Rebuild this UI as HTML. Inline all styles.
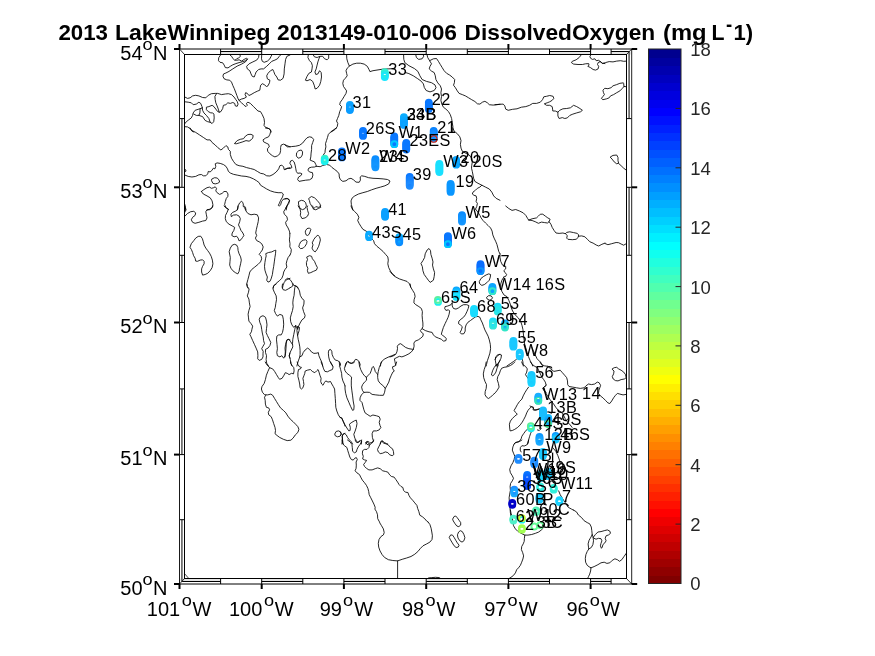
<!DOCTYPE html>
<html><head><meta charset="utf-8"><title>2013 LakeWinnipeg DissolvedOxygen</title>
<style>html,body{margin:0;padding:0;background:#fff;overflow:hidden}svg{display:block}text{font-family:"Liberation Sans",Arial,Helvetica,sans-serif}</style></head><body>
<svg width="875" height="656" viewBox="0 0 875 656">
<rect width="875" height="656" fill="#fff"/>
<g id="title" font-size="22.6" font-weight="bold" fill="#000">
<text x="58.4" y="39.6" textLength="49.6" lengthAdjust="spacingAndGlyphs">2013</text>
<text x="115.0" y="39.6" textLength="155.6" lengthAdjust="spacingAndGlyphs">LakeWinnipeg</text>
<text x="277.0" y="39.6" textLength="180.0" lengthAdjust="spacingAndGlyphs">2013149-010-006</text>
<text x="464.6" y="39.6" textLength="190.6" lengthAdjust="spacingAndGlyphs">DissolvedOxygen</text>
<text x="663.0" y="39.6" textLength="43.6" lengthAdjust="spacingAndGlyphs">(mg</text>
<text x="711.5" y="39.6" textLength="13.0" lengthAdjust="spacingAndGlyphs">L</text>
<text x="726.0" y="30.7" font-size="21" textLength="6.2" lengthAdjust="spacingAndGlyphs">-</text>
<text x="733.6" y="39.6" textLength="19.6" lengthAdjust="spacingAndGlyphs">1)</text>
</g>
<g id="coast" fill="none" stroke="#000" stroke-width="0.85" stroke-linejoin="round" stroke-linecap="round">
<path d="M220.5 55 L218.7 57.8 L218.5 60.7 L220 62.3 L222.7 62.8 L224.2 65.1 L225.3 67.6 L228 67.9 L230.3 66.3 L232.8 64.8 L235.9 63.6 L239.1 62.6 L242.9 61.6 L245.6 60.7 L247.5 59.1 L246.4 58.3 L244.1 59.4 L241.6 61.1 L239.1 59.8 L236.6 60.3 L234.7 60.1 L232.8 58.5 L231.8 56.5 L230.3 55.3"/>
<path d="M240.1 55.3 L240.3 56.5 L238.8 57.8 L236.6 58.8 L235.3 60.1"/>
<path d="M247.5 59.1 L245.4 61.9 L241.6 64.1 L237.2 66.1 L232.8 68.9 L229 71.4 L225.9 73 L223.6 73.9 L222.9 76.1 L224 78.7 L226.8 79.9 L229.7 80.2 L231.5 82.1 L232.8 85.4 L234.3 88.7 L235.6 92.1 L236.8 95.3 L238.1 98.8 L239.1 100.5 L241.6 102.8 L244.1 105.3 L246 106.6 L247.3 105.3 L246.4 103.4 L247.9 102.2 L250.4 103.4 L253.5 106.6 L256.1 109.1 L257.9 111 L260.5 111.6 L262.3 114.7 L264 118.5 L264.5 122.3 L264 125.4 L265.5 127.3 L268 128.2 L270.5 129.8 L271.1 132"/>
<path d="M258.9 55 L258.6 57.5 L256.7 60.1 L252.9 61.9 L249.1 63.8 L246.6 66.3 L247.3 68.9 L249.8 70.7 L251 73.9 L252.3 76.4 L254.2 77 L255.2 74.5 L256.1 72 L258.6 69.5 L261.1 68.9 L263.6 68.9 L266.7 66.3 L269.3 63.8 L271.8 61.3 L274.9 60.1 L277.4 58.8 L279.3 56.3 L280.6 55"/>
<path d="M261.7 55 L261.5 58.8 L262.3 61.3 L264.2 62.3 L267.4 61.1 L269.9 58.8 L271.1 56.3 L271.8 55"/>
<path d="M290 55 L286.9 56.3 L285.6 59.4 L285 63.8 L284.3 68.9 L284.1 73.9 L283.1 78.3 L280.6 80.2 L278.1 79.9 L276.8 77 L274.9 74.5 L273.7 71.4 L272.8 69.5 L270.5 70.7 L268 73.3 L266.7 75.8 L267.4 78.9 L269.9 80.2 L269.5 82.7 L268 85.8 L266.5 86.5 L264.2 84.6 L262.3 83.7 L260.7 85.2 L260.2 87.7 L259.8 90.2 L257.3 91.2 L254.2 92.7 L251 94.6 L248.9 95.5 L247.3 93.4 L245.6 92.7 L245.1 94.6 L246.4 97.1 L244.1 98.4 L241.6 99 L239.1 100.3"/>
<path d="M185 97.1 L187.5 98.4 L190.1 97.8 L192.6 95.9 L195.7 95.3 L198.9 95.9 L202.6 97.5 L205.8 97.8 L208.3 95.3 L211.4 93.7 L215.2 93.4 L217.7 93.4 L221.5 94.6 L225.3 94 L228.4 93.7 L231.5 94.6 L234.1 97.1 L235.9 99.7 L237.2 101.5 L238.1 104.1 L237.2 106.3 L235.3 105.9 L234.7 103.4 L232.8 102.5 L230.3 103.4 L227.8 102.8 L225.9 104.7 L223.4 105.3 L222.7 108.5 L220.9 111.6 L219.2 112.2 L218.3 109.1 L217.1 105.9 L215.8 102.8 L215.2 99.7 L214.9 96.5 L216.5 93.7"/>
<path d="M185 101.8 L188.2 102.2 L191.3 102.8 L193.2 104.7 L196.3 104.1 L198.9 102.2 L200.7 103.4 L202 106.6 L202.6 110.3 L203.9 112.9 L206.4 115.4 L208.9 118.5 L210.2 122.3 L212.1 123.5 L213.7 121.7 L214.2 117.9 L213.9 114.1 L212.7 112.9 L210.8 112.9 L208.3 111.6 L206.4 109.7 L206.4 107.2 L208.9 106.6 L212.1 105.3 L213.9 106.6 L215.8 109.1 L217.7 111.6 L219.2 112.2"/>
<path d="M202.6 107.8 L198.9 109.1 L195.1 110.3 L193.2 112.9 L192.6 115.4 L191.3 117.9 L188.8 119.8 L186.3 121.7 L185 123.5"/>
<path d="M200.1 109.1 L199.9 112.9 L198.9 115.4 L196.3 115.4 L193.8 114.1"/>
<path d="M198.9 115.4 L202.6 116.6 L205.1 120.4 L207.7 121.7 L210.2 122.3"/>
<path d="M185 126.7 L187.5 126.9 L190.1 128.6 L191.9 131.1 L193.8 132"/>
<path d="M308.3 55 L307.9 57.5 L309.5 60.7 L311.4 62.6 L312.4 65.7 L312 68.9 L311.4 72 L308.9 73.3 L307 76.4 L305.4 80.2 L307 80.8 L310.1 79.5 L312.7 81.4 L314.2 85.2 L315.2 89 L317.1 88.3 L319.6 85.2 L320.8 81.4 L321.5 77 L321.2 72.6 L319.6 70.7 L317.9 73.9 L315.8 74.5 L314.9 72 L316.2 68.9 L317.1 65.1 L317.9 61.9 L318.9 58.8 L320.2 56.3 L322.7 56.3 L324.6 58.8 L327.1 59.8 L328.7 58.2 L328.7 55"/>
<path d="M313.3 55 L314.5 56.9 L317.1 57.5 L319.6 56.5"/>
<path d="M346.6 55 L346.8 58.8 L347.9 62.6 L349.4 66.1 L347.2 68.2 L346 70.7 L346.6 73.3 L347.2 75.8 L345.3 78.3 L343.5 80.2 L342.8 83.3 L343.5 86.5 L345.3 89 L346.6 90.9 L346 93.4 L344.1 96.5 L342.2 99.7 L340.3 102.2 L339.7 104.7 L341.6 106.6 L340.9 109.1 L339.7 111.6 L338.8 115.4 L337.5 118.5 L336.5 121 L337.8 123.5 L337.2 126.7 L335.3 129.2 L332.8 131.1 L330.9 132"/>
<path d="M349.4 66.1 L352.9 64.1 L356.7 63.2 L360.4 63.2 L364.2 64.1 L367.3 66.3 L369 69.5 L369.9 71.6 L373 70.7 L378 69.9 L383.1 69.1 L388.1 68.9 L395 68.6"/>
<path d="M403.6 55 L403.8 59.4 L404.8 62.6 L408.9 65.7 L414.5 68.6 L417.9 71.4 L419.9 75.8 L422.1 79.5 L426.5 81.4 L431.5 82.7 L435 84.9 L436 87.7 L434.2 90.5 L430 91.9 L426.2 90.5 L424.3 87.5 L423.4 83.9 L421.2 81.2 L417.7 78.7 L413.3 75.8 L408.9 73.6 L405.1 72.4"/>
<path d="M415.8 55 L416.4 57.5 L418.7 59.4 L422.1 58.8 L423.7 56.3 L423.3 55"/>
<path d="M427.1 55 L427.7 57.5 L429.6 60.7 L431.5 63.8 L430 66.3 L429.2 68.9 L431.5 71.1 L434.2 72.6 L435.3 75.8 L435.9 79.5 L437.8 82.9 L440.3 85.8 L441.5 89 L440.9 92.7 L441.5 96.5 L440.9 100.3 L441.8 104.1 L443.4 107.2 L445.9 109.1 L448.5 111.6 L450.3 114.7 L451.6 118.5 L452.2 122.3 L452.9 126.7 L452.6 130.5 L452.9 132"/>
<path d="M429.6 60.7 L433.4 58.8 L436.5 58.5 L438.4 61.3 L440.3 64.5 L442.2 67.6 L444.1 70.7 L446.6 73.3 L449.7 75.1 L452.2 77 L454.7 79.5 L454.4 82.7 L453.5 85.2 L455.4 87.7 L457.3 90.9 L459.1 93.4 L462.3 94.6 L465.4 95.9 L468.6 97.8 L471.7 99.7 L474.9 101.5 L477.4 103.8 L479.9 104.1 L482.4 102.2 L484.9 101.3 L487.4 102.8 L489.3 104.7 L493.1 105.1 L496.9 104.7 L500 104.3"/>
<path d="M495 104.7 L499.4 104.3 L503.2 104.1 L504.8 105.9 L505.7 109.1 L508.2 110.3 L512.6 109.3 L517 108.8 L521.4 107.2 L525.8 106.6 L529.6 105.3 L532.7 103.4 L536.5 103.4 L540.3 102.2 L542.5 99.7 L543.8 96.8 L546.5 96.3 L549.7 95.5 L553.1 96.3 L553.8 98.4 L552.2 100.3 L549.7 101.8 L547.2 102.8 L544.3 103.8 L546.5 105.3 L549.7 105.3 L552.2 106.6 L552.6 109.1 L552.8 111 L555.3 111 L557.9 112.2 L559.7 110.3 L562.9 108.8 L566.7 108.5 L570.4 107.8 L573.6 105.3 L576.7 106.6 L579.9 108.5 L582.4 110.3 L580.5 111.8 L576.7 112.9 L572.9 114.1 L569.8 115.4 L567.3 117.9 L564.8 118.5 L562.3 117.6 L559.1 118.5 L557.9 116 L557.9 112.2"/>
<path d="M581.1 55 L579.2 57.5 L576.1 59.8 L572.3 61.3 L571.4 62.6 L573.6 64.1 L578 64.5 L582.4 64.5 L585.5 63.8 L588.7 63.6 L589 65.1 L587.8 66.3 L590.5 67.6 L593.1 69.5 L595.6 70.1 L598.1 68.9 L598.7 66.3 L597.5 64.5 L598.1 62.6 L600.3 61.6 L598.7 60.3 L596.2 60.7 L594.9 58.8 L592.4 59.4 L590.5 58.2 L589.9 56.3 L590.8 55"/>
<path d="M600.3 61.6 L602.5 63.2 L605 63.6"/>
<path d="M600.4 61.6 L602.3 63.6 L605.4 62.6 L609.2 61.6 L613 61.9 L616.7 61.1 L620.5 60.7 L623.7 61.3 L626.5 61.1"/>
<path d="M623 82.9 L619.9 83.3 L616.7 84.6 L613 85.8 L611.1 87.7 L607.9 88.7 L604.8 88.3 L602.9 90.2 L603.5 92.7 L604.4 94.6 L602.9 96.5 L601.4 98.4 L602.9 99.7 L606.7 98.8 L609.2 97.8 L610.5 95.9 L613.6 94.6 L616.7 92.7 L619.9 90.9 L622.4 88.3 L624 86.5 L623.7 83.9 Z"/>
<path d="M624 86.5 L626.2 86.7"/>
<path d="M190.1 128 L191.9 130.5 L195.7 132.4 L199.5 134.9 L203.3 137.4 L207 139.9 L210.2 139.9 L212.1 142.5 L215.2 145 L217.7 147.5 L220.9 150 L223.4 148.1 L225.9 145.6 L227.8 146.9 L228.4 149.4 L230.3 151.3 L230.3 154.4 L231.5 158.2 L233.4 161.3 L235.9 164.5 L239.1 165.7 L242.9 166.3 L246.6 167.6 L250.4 168.5 L254.2 169.5 L257.3 171.4 L260.5 173.3 L263.6 173.9 L266.7 175.8 L269.9 176 L273 174.5 L276.2 172 L278.7 168.9 L279.9 165.7 L281.8 165.1 L283.7 167 L284.1 169.5 L286.2 168.9 L290 167.6"/>
<path d="M234.7 143.3 L237.2 140.6 L240.3 139.3 L243.5 138.7 L245.4 136.2 L247.9 134.5 L251 134.3 L253.2 135.5 L252.7 138.1 L251 139.9 L249.1 141.2 L246 140.6 L242.9 141.8 L239.7 142.8 L236.6 143.7 Z"/>
<path d="M265.5 128 L269.3 128.6 L270.8 131.1 L269.9 134.3 L268.6 136.8 L265.5 138.1 L263 139.9 L263.6 141.8 L266.1 143.1 L268.6 144.3 L269.3 146.9 L267.4 148.7 L267.7 151.3 L269.9 153.8 L272.4 155.7 L274.9 156.9 L277.4 155.9 L279.9 153.8 L280.6 150.6 L280.6 147.5 L281.2 145 L283.7 144.1 L286.9 145.6 L290 146.9"/>
<path d="M185 169.5 L186 170.1 L185.7 171.4 L185 172"/>
<path d="M185 175.1 L188.2 176.4 L191.9 177 L195.7 176.4 L198.9 174.8 L201.4 174.5 L203.3 175.8 L205.8 175.8 L207.7 173.9 L208.3 171.4 L210.2 172 L212.1 170.1 L213.3 168.2 L214.9 168.9 L215.8 166.3 L215.2 163.8 L217.1 162.9 L220.2 163.4 L223.4 164.5 L225.9 166.3 L227.5 168.9 L228.4 171.4 L230.3 173 L233.4 174.3 L237.2 175.1 L241.6 176 L246 176.4 L249.8 177.3 L253.5 178.9 L256.7 180.8 L259.2 182.7 L260.5 185.2 L263.6 187.1 L266.7 189 L270.5 190.9 L274.3 192.1 L278.1 192.7 L281.8 192.7 L283.3 194 L282.5 197.1 L280.6 200.3 L279.3 203.4 L278.3 205.3 L279.3 206.2 L280.6 204.7 L281.6 201.5 L283.1 199.4 L286.2 198.4 L288.7 199 L289.6 200.9 L288.1 203.4 L286.9 206.6 L286.2 210"/>
<path d="M212.1 178.9 L214.6 177.7 L217.1 178 L219 179.8 L219.6 182.1 L217.7 183.3 L215.2 183.9 L212.9 183.3 L211.7 181 Z"/>
<path d="M201.4 191.5 L203.9 189.6 L207 187.7 L209.5 187.1 L211.4 188.3 L213.7 187.7 L215.2 186.8 L216.5 188.3 L215.8 190.9 L217.1 192.7 L219.6 194.4 L222.1 193.4 L224 191.5 L226.5 191.5 L228 194 L227.8 196.5 L226.3 198.4 L225.3 201.5 L224.6 204.7 L225.9 207.2 L228.4 209.7"/>
<path d="M201.4 191.5 L203.3 194 L207 195.9 L210.2 197.8 L212.1 200.9 L212.9 204.7 L212.1 207.8 L209.5 209.7 L207 210"/>
<path d="M237.2 210 L238.1 205.9 L239.7 202.8 L241.6 201.2 L242.9 202.8 L243.5 205.3 L245.4 207.2 L246 210"/>
<path d="M185 204.7 L185.3 207.8 L186 210"/>
<path d="M336.5 128 L333.4 129.9 L330.9 131.8 L328.4 134.3 L327.5 137.4 L326.5 140.6 L325.5 143.7 L325.9 146.9 L325.2 150 L325 152.5 L323.3 155"/>
<path d="M285 145 L287.5 146.9 L291.3 146.6 L295.7 146.2 L299.5 145.3 L302.6 143.1 L305.1 139.9 L307 137.8 L309.5 136.8 L312 137.4 L313.7 139.6 L312.7 142.5 L311.6 145.6 L311.6 149.4 L311.1 153.1 L310.8 156.9 L310.1 160.1 L312 160.9 L314.5 161.9 L315.8 164.5 L316.4 166.3 L314.5 167 L311.4 167.2 L308.9 168 L307.9 170.1 L309.5 172 L312.4 172.6 L312.9 175.1 L312 178.3 L309.5 179.8 L305.7 180.2 L302 180.8 L299.1 181.4 L297.6 179.5 L298.6 177 L300.7 175.8 L302 173.9 L300.1 173 L297.6 173.3 L296.3 171.4 L295.7 168.2 L295.1 165.1 L294.1 161.9 L292.5 160.4 L290.7 160.9 L289.8 163.2 L291.3 165.5 L291.9 167.6 L290 168.5 L287.5 168.2 L285 169.5"/>
<path d="M296.9 152.5 L298.8 150.6 L301.3 150 L302.6 151.9 L302.3 155 L300.7 157.5 L298.2 158.2 L296.6 156.3 Z"/>
<path d="M316.4 166.3 L320.2 166.7 L322.7 165.5 L326.5 164.5 L329.6 165.1 L332.1 167.6 L334.7 169.5 L337.2 171.4 L339.1 173.9 L339.3 177 L340.3 179.5 L342.8 181.4 L346 180.8 L348.5 178.9 L351 178.3 L353.5 179.8 L356 182.1 L359.2 182.3 L360.4 180.2 L360.2 177 L361.7 175.8 L364.8 176.4 L368.6 177.7 L373 178.3 L378 178.5 L383.1 178.9 L387.5 179.5 L390 181 L388.7 183.9 L384.9 185.8 L380.5 187.1 L376.1 188.3 L371.7 189.8 L367.3 191.5 L362.9 192.7 L358.5 194 L354.8 195.9 L352.3 197.8 L351 200.9 L351.4 204.7 L352.3 207.8 L352.9 210"/>
<path d="M285 199 L287.5 198.6 L289.4 200.3 L288.8 203.4 L286.9 205.9 L285.6 208.5"/>
<path d="M298.8 201.5 L301.3 200.3 L303.9 200.9 L305.7 202.8 L306.4 205.9 L305.1 208.5 L302.6 209.7 L300.1 208.5 L298.8 205.3 Z"/>
<path d="M308.9 198.4 L311.4 196.5 L314.5 197.8 L317.1 200.3 L319.6 203.4 L320.8 205.9 L318.9 207.4 L315.8 206.6 L313.9 208.5 L312 206.6 L310.1 203.4 L309.5 200.9 Z"/>
<path d="M452.9 128 L454.1 131.1 L457.3 133.7 L459.8 136.8 L461 140.6 L460.4 144.3 L461 148.1 L462.3 151.3 L465.4 153.1 L469.2 155 L471.7 158.2 L472.3 161.9 L471.7 165.7 L471.5 168.2 L472.3 171.4 L473 175.1 L473.6 178.3 L474.9 181.4 L478 183.3 L481.8 185.2 L485.5 187.1 L489.3 189 L491.8 192.1 L493.7 195.9 L496.2 198.4 L500 200.3"/>
<path d="M481.8 185.2 L479.9 187.1 L477.4 188.3 L475.5 190.2 L473 192.1 L472.3 194 L474 195.3 L476.1 195.9 L476.7 198.4 L476.1 201.5 L477.4 203.4 L476.7 206.6 L475.5 209.1"/>
<path d="M610.5 156.9 L613 155.4 L616.7 155 L618 157.5 L618 160.7 L618.6 163.2 L616.7 163.8 L614.2 161.9 L612.3 159.4 Z"/>
<path d="M618.6 163.4 L621.1 165.7 L623.7 168.2 L626.2 170.1"/>
<path d="M185 216.1 L187.5 213.5 L190.7 211.7 L193.8 211.3 L195.7 212.9 L195.1 215.4 L192.6 217.3 L191.3 219.8 L192.6 222.3 L195.1 223.3 L198.9 222.3 L202.6 221.1 L205.8 220.5 L207 217.9 L206.4 214.8 L205.8 211.7 L207 209.8 L210.2 209.1 L212.4 207.3 L212.9 206"/>
<path d="M224 206 L225.9 207.9 L228.4 209.1 L227.1 212.3 L225.5 215.4 L225.3 218.6 L226.3 221.7 L229 224.2 L232.2 225.9 L234.7 227.4 L233.8 230.5 L232.2 233 L231.8 235.5 L234.1 236.8 L236.6 236.2 L238.1 238.1 L239.1 240.9 L241 239.7 L242.6 237.4 L243.9 235.5 L242.9 233 L241 230.5 L239.7 227.4 L238.5 224.9 L239.7 221.7 L240.3 218.6 L239.1 216.1 L236.6 214.8 L233.4 215.1 L231.3 216.7 L230.9 214.2 L232.8 212.3 L235.9 211 L237.8 209.1 L238.1 206"/>
<path d="M242.9 206 L244.7 207.9 L246 211 L247.9 213.5 L251 214.8 L254.2 214.2 L257.3 214.8 L258.6 217.9 L258.2 221.7 L257.3 225.5 L256.4 229.3 L255.7 233 L256.7 235.5 L255.4 238.1 L256.7 240.6 L259.2 241.8 L261.7 243.7 L263.2 246.9 L262.3 250 L260.5 252.5 L259.2 254.4 L261.1 256.3 L261.7 258.8 L260.5 261.9 L257.9 264.5 L254.8 267 L251.7 269.5 L249.8 272 L248.9 275.8 L247.9 279.5 L246.9 283.3 L247.3 286.5 L247.9 288"/>
<path d="M190.1 246.9 L191.3 243.7 L193.8 240.6 L195.7 238.1 L198.2 236.4 L200.7 236.2 L202.4 238.7 L203.3 241.8 L204.1 245 L205.8 248.1 L207.7 250.6 L209.5 253.1 L211.2 256.3 L212.4 260.1 L212.9 263.8 L212.1 267.6 L210.2 270.7 L207.7 273.3 L205.1 274.5 L202.6 275.1 L201.6 272 L201.6 268.9 L202.6 266.3 L204.1 263.8 L204.1 261.3 L202.6 259.8 L200.1 260.1 L197.6 261.3 L195.7 261.1 L195.1 258.2 L193.6 255.7 L192.6 252.5 L191.6 250 Z"/>
<path d="M229.3 251.3 L230.3 248.1 L232.2 245.2 L234.3 244.3 L236.6 245 L237.8 247.5 L238.1 250.6 L239.1 253.8 L240.6 256.9 L241.3 260.1 L240.6 263.8 L239.7 267.6 L239.1 271.4 L237.8 273.9 L235.3 272.6 L232.8 270.7 L230.9 268.2 L229.7 265.1 L230 261.3 L230.3 257.5 L229.7 254.4 Z"/>
<path d="M266.1 253.5 L268.6 252.5 L271.8 251.9 L274.3 250.6 L275.8 250.2 L275.5 253.8 L274.9 257.5 L274.3 261.9 L273.7 266.3 L273 270.1 L272.4 274.5 L271.1 278.9 L269.9 281.4 L268 282.1 L266.7 280.2 L267.4 277 L266.1 273.9 L264.9 270.1 L264.5 266.3 L264.9 262.6 L265.5 258.8 L266.1 256.3 Z"/>
<path d="M286.9 206 L285.6 208.5 L283.7 211.7 L284.3 214.2 L286.9 216.7 L287.5 219.8 L285.6 222.3 L286.2 224.9 L288.1 228 L289.4 231.1 L290 233.7"/>
<path d="M290 255 L288.1 257.5 L286.9 260.7 L286.2 263.8 L286.9 267 L285 269.5 L283.7 272 L283.1 275.1 L281.8 278.3 L279.3 280.8 L276.2 283.3 L273.7 285.8 L273 288"/>
<path d="M290 278.3 L286.9 279.5 L284.3 282.1 L283.1 285.2 L282.5 288"/>
<path d="M185 206 L185.8 209.1 L185 212"/>
<path d="M289.8 233.7 L289.8 236.2 L289.4 239.9 L290 243.7 L289.8 246.9 L291.3 249.4 L291 252.5 L290 255"/>
<path d="M298.2 206 L300.1 209.1 L300.7 212.3 L300.3 215.4 L302 218.6 L305.1 217.9 L307.6 216.1 L308.6 213.5 L307.6 210.4 L307 207.3 L307.6 206"/>
<path d="M312.7 206 L313.3 209.1 L315.8 209.8 L318.3 208.5 L320.8 207.3 L320.2 206"/>
<path d="M305.7 230.5 L307 228.6 L309.5 228 L310.8 229.3 L310.1 231.8 L309.1 234.3 L307.6 235.5 L306.1 234.9 L305.4 232.6 Z"/>
<path d="M299.5 244.3 L300.7 241.8 L303.2 240.2 L305.7 239.7 L307 241.2 L306.6 243.7 L305.1 246.2 L303.2 248.1 L300.7 248.7 L299.1 247.2 Z"/>
<path d="M312.4 242.5 L313.9 239.3 L315.8 236.8 L317.9 235.2 L319.6 236.8 L320.4 239.9 L319.6 243.1 L318.7 246.2 L317.1 249.4 L315.2 251.9 L313.3 250.6 L312 248.1 L312.9 245.2 Z"/>
<path d="M307 256.9 L309.5 255.7 L311.6 256.3 L312.4 258.8 L314.5 261.3 L315.8 264.5 L317.4 267.6 L316.4 270.1 L313.3 271.4 L310.8 272.6 L308.3 273.3 L307.4 270.7 L307.9 268.2 L306.6 265.7 L306.4 262.6 L307.4 259.8 Z"/>
<path d="M285 280.2 L287.5 278.3 L290 279.5 L291.9 282.1 L292.8 284.6 L295.1 285.8 L296.9 286.5 L297.6 288"/>
<path d="M351 206 L352.3 209.1 L354.8 211.7 L357.3 214.2 L358.9 217.3 L357.7 220.5 L359.2 223.6 L361.1 226.7 L362.9 229.3 L366.1 231.1 L368.6 233 L371.7 238.7 L373.6 240.6 L374.5 243.7 L376.8 246.2 L379.9 248.7 L383.1 251.5 L385.6 254.4 L387.8 256.9 L388.3 260.1 L387.8 263.8 L388.7 267.6 L390.6 271.4 L393.1 274.5 L395 276.1"/>
<path d="M421.2 263.2 L422.9 260.7 L424.6 257.5 L425.2 253.8 L427.1 250 L429 248.5 L430.5 250.6 L430.9 254.4 L432.1 258.2 L433 261.9 L432.5 265.1 L433.4 268.9 L434.6 272.6 L434.2 276.4 L433.4 280.2 L430.2 282.4 L428.3 280.2 L426.5 277.7 L424.2 274.5 L422.9 270.7 L422.4 267 Z"/>
<path d="M475.5 209.1 L478 212.3 L479.9 215.4 L481.1 217.9 L483 220.5 L485.5 223 L488.1 225.5 L490.6 228 L492.1 231.1 L492.8 234.9 L494.1 238.1 L495.6 241.2 L496.9 244.3 L497.9 248.1 L498.7 251.3 L500 253.8"/>
<path d="M479.5 281.2 L481.1 278.3 L483.7 276.4 L486.2 274.9 L488.7 273.9 L490.6 274.5 L490.3 277 L489.3 280.2 L486.8 282.7 L484.3 284.6 L481.8 285.4 L479.9 283.9 Z"/>
<path d="M390 271.4 L392.5 274.5 L395.7 277 L399.4 278.9 L403.2 280.2 L407 281.4 L409.5 283.9 L410.7 287.1"/>
<path d="M505.7 206 L508.8 208.5 L512 210.4 L515.7 209.5 L519.5 211 L523.3 212.9 L525.8 215.4 L527.7 218.6 L528.7 220.1 L532.1 218.8 L536.5 217.9 L538.4 216.1 L540.3 214.2 L542.8 214.2 L545.3 216.1 L547.8 217.9 L550.1 219.2 L549.1 221.7 L547.5 223 L544.7 222.6 L541.5 222.1 L538.4 223.3 L535.2 221.7 L532.1 220.5 L528.7 220.1"/>
<path d="M549.1 221.7 L550.9 224.2 L552.2 227.4 L554.1 230.5 L556 233 L559.1 233.4 L562.9 233 L565.4 233.7 L567.3 235.5 L566.7 238.1 L567.9 239.3 L572.3 239.7 L576.1 239.3 L578.2 237.4 L578.6 234.9 L577.3 233.4 L573.6 232.6 L569.8 231.8 L566.7 232.4 L565.4 233.7"/>
<path d="M578.6 236.2 L581.7 235.9 L584.9 236.8 L587.4 239.3 L589.9 241.8 L593.1 243.1 L596.2 245 L598.7 246 L601.9 244.3 L605 243.1"/>
<path d="M500 253.8 L500 257.5 L500.7 261.3 L502.5 265.1 L505.7 266.3 L505.7 268.9 L503.8 270.7 L505.1 272.6 L506.6 274.5 L505.7 276.4 L503.8 277"/>
<path d="M605 243.5 L607.9 244.7 L611.7 243.7 L616.1 242.5 L618.6 242.7 L621.1 244 L623.7 245.2 L626.2 243.7"/>
<path d="M246.6 284 L247.3 286.5 L249.1 289 L248.5 292.2 L247.3 295.9 L248.9 299.1 L249.4 302.9 L250.1 306.6 L248.9 310.4 L248.1 314.2 L248.5 317.9 L248.9 321.1 L251 323.6 L252.7 326.1 L251.9 329.3 L251.4 331.8 L249.8 334.3 L251 336.8 L252.7 340.6 L254.4 344.3 L256.1 348.1 L257.7 351.9 L257.9 355.7 L257.7 358.8 L259.2 360.4 L261.7 359.4 L263 356.9 L263 353.8 L263.2 351.3 L261.7 348.7 L263 346.2 L264.5 343.7 L263.6 340.6 L263.2 336.8 L262.3 333 L261.7 329.3 L261.1 325.5 L259.8 322.3 L259.2 319.2 L260.5 316.7 L263 315.7 L265.5 317.3 L266.5 321.1 L267 324.9 L266.5 328.6 L266.1 332.4 L267.4 335.5 L269 338.7 L270.8 342.5 L269.9 345.6 L268 348.1 L265.5 349.4 L265.5 352.5 L266.5 355.7 L266.1 359.4 L266.7 363.2 L268.6 366"/>
<path d="M276.2 284 L273.7 285.9 L273 289 L274.3 292.2 L276.2 295.9 L276.5 299.7 L275.8 303.5 L275.3 307.3 L274.3 310.4 L275.5 313.5 L277.4 316.1 L279.9 314.4 L282.5 315.4 L283.3 319.2 L283.7 324.2 L283.3 328.6 L282.5 332.4 L281.2 334.9 L278.7 334.9 L276.8 336.2 L276.5 339.9 L277 344.3 L277.4 348.7 L276.8 352.5 L277.4 355.7 L279.9 356.9 L281.8 355.7 L283.7 358.2 L285 355.7 L285.3 351.9 L285 348.1 L285.6 344.3 L286.6 340.6 L288.1 339.3 L290 339.9"/>
<path d="M282.5 284 L282.1 287.1 L283.1 289.7 L285.6 290.3 L288.1 289 L290 287.8"/>
<path d="M290 353.1 L289.1 355.7 L290 358.2"/>
<path d="M290 287.8 L292.5 286.3 L293.2 284"/>
<path d="M295.7 285.9 L297.6 287.1 L299.5 290.9 L300.3 295.3 L302 298.5 L304.1 300.3 L303.9 304.1 L302.6 307.9 L303.6 311.7 L305.1 315.4 L304.5 317.9 L302 319.8 L300.1 323 L298.6 326.1 L297.6 329.3 L295.7 325.5 L293.8 327.4 L291.9 324.9 L290.7 321.7 L290.3 317.9 L291.3 314.2 L292.5 310.4 L293.2 306.6 L292.8 302.9 L293.2 299.1 L294.1 295.3 L294.4 290.9 L294.8 287.8 Z"/>
<path d="M295.7 325.5 L294.8 329.3 L293.8 334.3 L292.8 339.3 L292.5 343.7 L292.8 346.9 L291.3 350 L289.8 353.1 L289.4 356.3 L290.3 359.4 L290.7 363.2 L291.9 365.7"/>
<path d="M297.6 326.7 L299.5 327.4 L299.1 330.5 L298.2 333.7 L297.6 335.5 L298.2 339.3 L299.1 343.1 L299.8 346.9 L300.1 350.6 L300.1 354.4 L299.8 356.9 L298.6 360.1 L297.6 363.2 L296.9 366"/>
<path d="M297.6 326.7 L296.9 330.5 L297.6 335.5"/>
<path d="M285 356.9 L285.6 353.1 L286 348.1 L286.3 343.1 L286.9 339.9 L288.8 339.3 L290.7 341.8 L292.3 344.3"/>
<path d="M299.8 356.9 L302 355.7 L303.2 352.5 L305.1 350 L307.6 348.1 L309.5 349.4 L311.4 351.9 L313.9 353.4 L317.1 353.1 L318.3 352.5 L318.9 355.7 L320.2 358.8 L321.7 361.9 L322.7 366"/>
<path d="M339.7 366 L340.6 365.1 L340.1 362.6 L337.8 360.7 L335.3 360.1 L333.4 357.5 L332.1 354.4 L331.8 351.3 L330.5 349.4 L329 350 L328.4 351.9 L328.4 353.8 L328.7 356.9 L329.6 360.7 L331.3 363.8 L332.8 366"/>
<path d="M345.1 366 L346 363.2 L347.9 361.3 L349.7 362.6 L351.6 363.4 L353.9 361.9 L355.4 359.4 L357.3 359.7 L359.2 361.9 L360.2 364.5 L359.8 366"/>
<path d="M395 354.4 L391.9 355.7 L388.1 357.2 L384.9 358.8 L382.4 360.7 L380.8 363.2 L380.5 366"/>
<path d="M410.1 284 L410.7 287.1 L412.6 290.3 L414.5 293.4 L415.1 296.6 L414.1 299.7 L413.9 302.9 L415.8 304.7 L418.9 306.6 L421.4 308.5 L422.4 311.7 L422.1 315.4 L422.4 319.2 L422.9 323 L422.9 326.7 L422.1 328.6 L420.4 330.5 L421.4 332.4 L423.3 333.7 L422.9 336.2 L420.8 338.1 L418.3 339.9 L415.1 341.2 L413.9 343.1 L414.1 346.2 L413.3 349.4 L411.4 351.9 L408.9 353.8 L405.1 355.7 L401.9 356.9 L399.4 356.3 L396.9 357.5 L394.4 358.8 L395 361.9 L395.7 365.1"/>
<path d="M390 356.9 L392.5 356.3 L395.7 354.4 L396.9 351.9 L397.5 348.7 L397.3 346.2 L398.8 344.3 L400.7 343.7 L403.2 345.6 L405.7 347.5 L408.9 348.7 L413.3 349.4"/>
<path d="M422.1 328.6 L425.2 330.5 L429 331.8 L432.1 332.4 L433.4 334.9 L435.3 336.8 L438.4 338.1 L441.5 339.3 L443.4 341.2 L445.9 340.6 L446.3 338.7 L444.7 336.8 L442.8 335.5 L441.3 334.3 L442.2 331.1 L443.4 327.4 L445.1 323.6 L446.6 320.5 L448.1 317.3 L449.1 314.2 L449.7 311 L448.5 309.8 L445.9 310.4 L444.7 308.5 L445.1 306.6 L447.8 306 L451 304.7 L452.2 302.9"/>
<path d="M452.2 302.9 L452.2 306 L453.5 308.5 L456 309.1 L458.5 307.9 L461 306 L463.5 304.7 L466.7 304.7 L468.9 305.6 L468.2 308.5 L466.9 311.7 L465.4 314.8 L463.5 317.3 L461 319.2 L458.9 321.1 L458.5 323.6 L460.4 324.9 L462.3 326.7 L461.4 329.9 L460.1 332.4 L461.4 334 L463.9 333.7 L465.2 331.1 L465.2 328 L466.1 324.9 L467.9 322.3 L470.5 320.5 L473 318.6 L475.5 316.9 L478 316.4 L479.9 317.3 L480.8 319.8 L482.4 323 L483.7 326.7 L484.9 329.9 L486.5 333 L488.1 336.2 L489.3 339.9 L490.3 344.3 L490.6 348.7 L489.9 353.1 L488.7 356.9 L487.4 360.7 L486.5 364.5 L486.2 366"/>
<path d="M500 354.4 L497.5 355 L495.6 356.9 L495.3 360.1 L495.8 363.2 L496.2 366"/>
<path d="M500 360.7 L498.4 363.2 L497.9 366"/>
<path d="M486.8 297.2 L488.7 295.6 L491.2 295.9 L492.5 297.8 L491.2 299.7 L489.3 300.1 L487.4 299.1 Z"/>
<path d="M503.8 277.1 L501.9 280.2 L500.7 284 L500.7 287.8 L501.9 291.5 L504.1 295.1 L506.9 296.6 L508.8 300.3 L510.3 304.1 L511.3 307.9 L512.6 311 L515.1 314.8 L518.3 317.9 L520.8 321.7 L522 325.5 L522.9 329.3 L523.3 333 L523.7 336.8 L524.2 340.6 L524.7 344.3 L525.8 348.1 L527.1 352.5 L528.3 356.3 L530.2 360.7 L532.1 364.5 L532.7 366"/>
<path d="M531.5 346.9 L533.3 350.6 L535 354.4 L537.1 358.8 L539.6 361.3 L541.5 364.5 L542.8 366"/>
<path d="M495 359.4 L496.9 356.3 L499.4 354.4 L501.5 355 L501 358.2 L499.4 361.3 L497.5 364.5 L496.3 366"/>
<path d="M506.9 366 L510.1 363.8 L513.2 361.7 L516.4 359.4"/>
<path d="M522 358.2 L522.9 361.9 L523.3 366"/>
<path d="M265.2 362 L267.1 365.1 L269.6 367.7 L272.7 368.9 L274.6 371.4 L276.5 374.6 L278.4 377.7 L279.6 379.3 L282.1 378.3 L284 375.2 L285.3 372.7 L287.2 373.3 L289.1 374.6 L291.6 373.3 L293.5 373.9 L294.1 370.8 L293.8 367.7 L292.2 365.8 L290.9 363.3 L290.9 362"/>
<path d="M269.6 367.7 L267.9 371.4 L266.4 375.2 L265.4 379.6 L264.2 383.4 L262 386.5 L261.4 389 L262.4 392.2 L264.5 394.7 L267.7 394.9 L270.8 394.1 L272.7 395.3 L274.6 398.5 L276.5 401.6 L278.4 404.7 L280.5 407.9 L283.4 410.4 L285.9 412.9 L287.8 416.1 L290.3 419.2 L293.1 421.7 L295.6 424.2 L297.9 426.7 L298.9 429.3 L297.9 432.4 L295.3 434.9 L293.1 438.1 L290.9 440.2 L287.2 440.6 L283.4 439.3 L279.6 437.4 L277.1 435.5 L275 433.7 L275.5 430.5 L275 427.4 L273.7 423.6 L272.5 419.8 L271.2 416.7 L268.7 414.8 L268.3 412.3 L269.6 409.8 L268.7 407.9 L266.4 407.3 L265.4 404.1 L265.2 400.3 L264.5 397.2 L265.8 395.3"/>
<path d="M297.2 362 L297.9 364.5 L299.7 367 L301.4 367.3 L300.4 368.9 L298.5 369.5 L297.9 372.7 L297.9 376.5 L298.9 380.2 L299.7 384 L300.1 387.8 L301.4 389 L302.9 387.8 L303.9 384.6 L303.5 381.5 L302.9 378.3 L303.9 375.8 L304.8 373.3 L305.1 371.1 L307.3 370.2 L310.4 369.5 L312.3 371.4 L314.8 372.7 L316.7 370.8 L318 369.5 L319 372.1 L319.9 375.2 L321.1 378.3 L320.7 381.5 L321.7 384 L323 385.3 L324.3 382.7 L325.8 380.9 L328 382.1 L330.5 381.5 L331.8 384 L333.3 386.5 L334.6 389 L334.9 393.4 L335.3 398.5 L335.6 403.5 L335.8 407.3 L336.8 411 L338.3 414.8 L340 417.3 L341.9 418.6 L343.1 421.1 L344.4 424.2 L345 426.1"/>
<path d="M321.1 362 L322.4 365.1 L323.6 368.9 L324.9 371.4 L327.4 371.8 L329.9 370.5 L332.4 369.5 L333.1 367 L331.8 364.5 L330.5 362"/>
<path d="M339.3 362 L339.6 365.8 L340.6 369.5 L341.6 373.3 L341.9 377.1 L342.9 380.9 L344.4 384 L345 385.9"/>
<path d="M334.9 433.7 L336.2 431.4 L338.7 430.9 L340.8 432.1 L341.2 434.3 L340 436.2 L337.5 436.8 L335.6 435.9 Z"/>
<path d="M345 433.4 L343.1 434.3 L342.1 436.2 L342.5 439.3 L342.9 442.5 L343.1 444"/>
<path d="M345 385.9 L345 389 L345.7 393.4 L346.9 397.8 L348.8 402.2 L350.7 406.6 L352.6 410.4 L353.8 409.8 L354.1 406 L353.2 401 L352.6 395.9 L351.9 390.9 L351.3 385.9 L351.3 380.9 L351.6 377.1 L349.4 375.2 L346.9 373.3 L345 370.8 L344.4 368.3 L345.7 365.1 L346.9 362"/>
<path d="M348.2 362 L350.1 363.3 L353.2 363 L354.5 362"/>
<path d="M358.9 362 L359.5 365.8 L360.7 369.5 L362.6 373.3 L364.5 375.8 L366.4 377.3 L368.3 375.2 L370.2 373.3 L371.4 370.2 L372.1 367.7 L373.3 366.4 L374.6 368.9 L375.2 371.4 L376.7 373.3 L377.7 374.6 L378.3 371.4 L379.2 367.7 L380.5 364.5 L381.5 362"/>
<path d="M366.4 377.3 L366.6 380.2 L364.5 382.1 L362.6 384.6 L361.6 387.1 L362.4 390.3 L363.9 392.4 L367 392.2 L369.5 392.4 L372.1 394.4 L375.8 394.9 L379.6 395.3 L383.4 395.3 L384.6 392.2 L385.3 388.4 L382.7 385.3 L380.2 383.4 L378.3 380.9 L377.7 377.7 L377.7 374.6"/>
<path d="M385.3 388.4 L387.1 385.3 L388.8 382.1 L389.7 379 L391.3 375.2 L392.8 372.1 L394.3 371.1 L392.8 368.9 L392.5 366.8 L395.3 365.8 L396.3 363.3 L396.6 362"/>
<path d="M363.9 392.4 L361.4 394.9 L360.1 397.8 L359.9 400.3 L362 402.5 L362.9 406 L363.9 409.8 L365.1 412.9 L367.9 414.8 L370.2 416.3 L372.9 415 L376.5 415.8 L379.2 416.7 L380.2 419.2 L379.2 422.3 L380 425.5 L380.9 427.4 L379.2 429.9 L376.5 430.9 L373.3 430.9 L372.1 433.7 L372.4 437.4 L373.3 440.6 L372.1 442.5 L369.5 443.1"/>
<path d="M340 417.3 L341.9 417.9 L343.1 421.1 L345 424.9 L346.9 428 L348.8 430.9 L350.1 430.5 L350.3 427.4 L349.4 424.2 L351.9 422.3 L354.5 420.8 L356.3 420.1 L357 423.6 L356.3 427.4 L355.1 431.1 L353.8 434.3 L354.8 438.1 L356.3 440.6 L357.6 442.5 L360.1 440.6 L361.6 441.2 L361.4 444"/>
<path d="M340 431.8 L341.3 433.7 L340.6 435.5"/>
<path d="M341.9 444 L342.5 440.6 L342.3 436.8 L342.8 434.3 L344.4 433.4 L346.3 434.9 L347.5 437.4 L349.4 439.9 L351.3 441.8 L352.6 444"/>
<path d="M365.8 444 L367 441.8 L368.7 443.1 L369.2 444"/>
<path d="M380.2 444 L381.2 441.4 L382.7 440.9 L384.2 442.5 L386.5 443.5 L387.8 444"/>
<path d="M486.2 362 L485.5 365.8 L484.2 369.5 L483.3 373.9 L483.7 377.7 L485 381.5 L486.5 384.6 L486.2 388.4 L485.2 391.5 L485 394.7 L486.5 397.2 L488.4 398.5 L490.5 397.2 L492.8 394.9 L495.3 392.8 L497.2 390.3 L499.1 387.1 L498.4 383.4 L497.2 379.6 L497.8 376.5 L499.3 373.9 L500.3 370.8 L501.6 368.3 L504.1 367.3 L507.2 366.8 L510.4 365.5 L512.9 363.9 L514.8 362"/>
<path d="M491.8 373.3 L492.8 370.2 L494.3 367.3 L495.9 365.1 L497.2 363.9 L497.8 365.8 L496.8 368.9 L495.9 372.1 L494.3 374.6 L492.8 375.8 L491.8 375.2 Z"/>
<path d="M521.7 362 L522.7 364.5 L525.5 366.4 L527.3 368.9 L526.7 372.1 L525.5 374.6 L526.7 376.5 L528.6 379"/>
<path d="M528.6 387.1 L526.7 389.7 L524.8 392.8 L523.2 395.9 L521.9 399.1 L519.4 401.6 L517.3 404.7 L515.6 407.9 L514.1 410.4 L515.4 412.3 L517.3 414.2 L514.8 416.1 L512.3 418.6 L510.4 421.1 L509.4 424.2 L509.7 428 L510.1 430.9 L512.3 430.5 L514.8 429.3 L517.7 427.4 L520.2 424.9 L522.3 422.1 L523.9 419.2 L525.5 416.1 L526.7 412.9 L528 410.4 L529.5 408.5 L531.7 406.6 L533.6 407.3 L533 409.8 L535.5 410.4 L538 409.5 L539.9 408.8"/>
<path d="M530.5 362 L532.4 364.5 L534.9 366.4 L537.4 367.7 L539.5 372.1 L541.8 377.1 L543.7 379.6 L545.3 382.1 L546.2 385.3 L544.9 386.5 L543.1 387.8 L544.3 390.3 L546.2 392.8"/>
<path d="M540.5 362 L541.8 364.5 L544.3 365.8 L548.1 366.4"/>
<path d="M514.1 444 L516 442.5 L519.2 441.4 L521.1 438.9 L521.9 436.2 L523.6 433.7 L525.5 431.1 L527.3 429.3"/>
<path d="M527.3 444 L528.6 439.9 L529.5 436.8 L530.5 433.7 L531.7 431.1"/>
<path d="M537.4 429.9 L539.3 430.5 L541.2 428.6 L540.3 426.7"/>
<path d="M548 366.4 L550.7 368.9 L553.9 371.4 L557 370.8 L560.2 370.2 L562.4 372.7 L564.6 375.2 L566.7 377.7 L567.5 380.9 L567.7 384.6 L569 386.5 L572.7 387.1 L576.5 387.8 L580.3 388.4 L584.1 387.8 L585.9 385.9 L588.5 384 L591.6 384.6 L594.7 384 L597.3 382.1 L599.1 382.7 L600.6 385.3 L599.8 387.8 L598.9 390.3 L598.5 393.4 L600.4 395.9 L602.9 397.8 L605.4 400.3 L607.9 402.9 L609.8 403.5 L611.7 401 L613.6 397.8 L615.5 395.3 L617.4 393.4 L619.9 394.1 L623 394.9 L626.2 394.4"/>
<path d="M612.3 368.9 L614.2 367.7 L616.7 367.3 L618.6 368.9 L621.1 370.2 L623.7 372.1 L625.5 374.6 L626.2 377.7 L624.3 379 L621.1 379.6 L618 380.9 L615.5 380.6 L613.2 379 L612.3 376.5 L613.6 373.9 L614 371.4 Z"/>
<path d="M546.2 385.3 L542.6 388.4 L545.1 392.2 L547.6 395.9 L550.1 399.7 L553.3 403.5 L555.8 407.3 L558.3 410.4 L561.4 412.3 L563.3 414.8 L565.2 418.6 L567.7 422.3 L570.2 424.9 L572.1 427.4"/>
<path d="M530 406 L532.5 407.3 L534.4 409.8 L536.9 409.5 L539.4 408.8 L542.6 410.4 L545.7 412.3 L548.9 411.7 L551.4 413.5"/>
<path d="M341.9 440 L342.5 443.1 L344.4 445.7 L346.9 447.5 L347.8 450.7 L348.8 453.8 L349.8 457 L351.3 459.5 L353.2 460.1 L354.8 458.2 L356.3 457.6 L357.3 459.5 L356.1 462 L356.3 465.1 L356.1 468.3 L355.1 470.8 L357 472.9 L359.5 474.6 L360.7 477.1 L362.4 480.2 L364.5 482.7 L366.4 485.3 L367.9 488.4 L368.7 491.5 L369.2 494.7 L370.8 497.8 L372.4 501 L373.9 504.1 L375.2 507.3 L374.9 509.1 L376.5 511.7 L377.5 514.8 L377.7 518.6 L379 521.1 L379.6 522"/>
<path d="M347.5 440 L350.1 441.9 L351.9 444.4 L352.3 447.5 L352.6 451.3 L354.5 452.8 L356.3 451.9 L357 449.4 L358.2 446.9 L360.1 444.4 L361.4 441.9 L361.6 440"/>
<path d="M355.1 440 L356.3 442.3 L358.2 442.5 L359.9 441"/>
<path d="M365.8 442.5 L367 444.4 L369.5 445 L371.4 443.5 L373.3 441.9 L373.7 440"/>
<path d="M365.8 442.5 L367 441.3 L368.9 441.9"/>
<path d="M369.5 445 L368.9 447.5 L367 449.4 L364.5 449.4 L362.6 450.7 L362.4 453.8 L363.3 456.3 L362.6 458.9 L364.5 459.9 L366.6 460.4 L365.1 462.6 L363.6 464.5 L364.5 466.4 L366.4 468.3 L368.9 469.9 L372.1 469.9 L375.2 468.7 L377.7 467.9 L380.2 468.7 L382.7 470.8 L385.3 471.4 L387.8 472.1 L389.7 474.9 L391.5 476.5 L394.1 477.1 L395.9 479.6 L397.6 482.1 L399.1 484.6 L401 486.5 L402.9 487.5 L403.5 490.3 L405.4 492.2 L407.9 492.5 L408.9 495.3 L410.4 497.8 L412.7 500.3 L414.8 502.9 L416.9 505.4 L417.7 508.5 L418.9 511.7 L419.8 515.2 L422.3 516.7 L424.9 518.9 L426.7 521.1 L428 522"/>
<path d="M382.1 441 L383.4 443.1 L385.9 443.8 L388.4 445 L390.3 447.3 L392.5 448.8 L393.4 451.3 L393.8 454.5 L392.2 455.7 L389.7 454.8 L387.8 452.6 L385.3 451.9 L382.7 453.2 L380.2 453.6 L378.3 451.9 L377.5 449.4 L378.7 446.9 L380 444.4 L380.9 441.9 Z"/>
<path d="M521.9 440 L521.1 440.6 L518.5 441.9 L515.4 442.5 L514.1 444 L512.9 446.9 L512.3 450.1 L513.5 453.2 L514.8 456.3 L514.1 459.5 L512.9 462.6 L511 465.8 L509.7 469.5 L510.4 472.7 L512.3 475.8 L513.5 478.3 L512.3 480.9 L510.6 483.4 L510.1 486.5 L510.4 490.3 L509.7 494.1 L509.1 497.8 L509.4 501.6 L509.7 505.4 L510.1 509.1 L510.4 512.9 L511 516.7 L511.6 520.5"/>
<path d="M528.6 440 L528.2 443.1 L526.7 445 L524.2 446 L521.9 445.7 L520.4 447.5 L520.2 450.1 L521.1 451.9"/>
<path d="M552.6 447.5 L555.8 451.3 L557.9 455.7 L559.5 460.1 L560.4 463.9"/>
<path d="M558.7 490.9 L560.2 494.7 L562.9 499.1 L565.8 503.5 L568.3 507.3 L571.5 509.1 L573.4 510.1"/>
<path d="M379.6 522.6 L381.5 525.7 L383.4 528.9 L384.2 532.6 L383.4 534.9 L380.9 536.6 L379 539.5 L378.3 543.3 L378.7 547.1 L380 550.9 L382.1 554.6 L384.6 557.5 L388.4 559.7 L392.8 560.5 L397.6 560.9 L402.2 559.3 L406.6 558 L411 556.5 L414.8 554.2 L417.9 551.5 L420.5 548.3 L423 545.8 L426.7 543.9 L429.9 542.1 L432 539.5 L432.4 535.8 L431.8 532 L431.1 528.2 L429.9 524.5 L428 521.9"/>
<path d="M397.6 560.9 L397.6 578.5"/>
<path d="M428.6 577.9 L431.8 577.6 L435.5 577.3 L439.3 577.6 L440.6 578.5"/>
<path d="M452.8 518.8 L454.1 516.5 L455.7 516 L457.3 517.8 L459.1 520.3 L460.7 522.6 L460.7 525.1 L458.8 526.6 L456.9 526.1 L455.1 523.8 L453.5 521.3 Z"/>
<path d="M457.6 534.5 L458.6 532 L460.3 530.7 L462.3 531.6 L463.9 534.5 L464.9 537.7 L463.9 540.8 L462 542.1 L459.8 540.8 L458.2 538.3 Z"/>
<path d="M449.4 537 L450.7 534.9 L452.5 535.1 L454.1 537.4 L455.7 540.2 L457.3 542.9 L459.1 545.2 L458.2 547.1 L456.1 547.5 L454.1 545.8 L452.3 542.9 L450.7 540.2 Z"/>
<path d="M510.4 510 L511 513.1 L512.3 517.5 L512.9 521.9 L513.5 525.7 L515.4 528.9 L517.9 531.4 L521.1 533.3 L524.8 535.1 L528 535.1 L531.7 534.5 L535.5 533.3 L538.7 532 L541.2 530.1 L543.1 528.2"/>
<path d="M524.8 535.1 L524.4 538.3 L524.2 541.4 L523.2 543.9 L521.7 546.5 L521.4 549.6 L522.7 552.7 L523.6 555.9 L522.9 559 L521.7 562.2 L520.4 565.3 L518.5 567.8 L516.7 569.7 L515.4 572.9 L513.5 575.4 L511 577.3 L509.1 578.5"/>
<path d="M573.4 510 L576.5 511.9 L578.4 515 L581.5 517.5 L584.1 520.7 L587.2 522.6 L589.7 523.8 L591.3 527 L591.8 530.7 L592.2 534.5 L591 537 L589.1 540.2 L588.1 543.9 L588.5 547.1 L588.8 549 L587.2 551.5 L585.9 554.6 L585.3 558.4 L585.6 562.2 L587.2 565.3 L589.1 566.8 L591 567.8 L590.6 571 L589.7 574.1 L588.5 576.6 L587.6 578.5"/>
<path d="M592.2 534.5 L593.1 537 L593.5 540.8 L592.9 544.6 L591.3 547.5 L588.8 549"/>
<path d="M593.5 537 L595.4 534.5 L597.9 532 L601 531.6 L604.2 530.7 L607.3 529.9 L609.8 531.1 L610.5 533.3 L608.6 534.9 L606.1 535.8 L605.2 538.3 L606.1 540.8 L604.8 542.9 L602.9 544.6 L602.3 547.1 L601.4 548.3 L600.4 545.8 L601 543.3 L601.9 540.8 L601 538.7 L598.5 538.3 L596 539.2 L594.1 538.3 Z"/>
<path d="M591 567.8 L594.1 566.6 L597.9 564.7 L601 562.8 L604.2 562.2 L606.9 563.4 L609.8 562.8 L612.3 560.3 L614.9 558.8 L617.4 559.7 L619.5 561.3 L621.8 559.7 L624 556.5 L626.2 553.4"/>
</g>
<g id="stations" font-size="16.3" letter-spacing="0.35" fill="#000">
<circle cx="384.8" cy="72.2" r="2.9" fill="none" stroke="#32f0c8" stroke-width="2"/>
<circle cx="384.8" cy="73.4" r="2.9" fill="none" stroke="#2ceed6" stroke-width="2"/>
<circle cx="384.8" cy="74.6" r="2.9" fill="none" stroke="#26ebe4" stroke-width="2"/>
<circle cx="384.8" cy="75.8" r="2.9" fill="none" stroke="#1fe8f1" stroke-width="2"/>
<circle cx="384.8" cy="77" r="2.9" fill="none" stroke="#19e6ff" stroke-width="2"/>
<ellipse cx="384.8" cy="74.6" rx="1.2" ry="0.5" fill="#f0fff0"/>
<circle cx="349.9" cy="105" r="2.9" fill="none" stroke="#0aa5ff" stroke-width="2"/>
<circle cx="349.9" cy="106.2" r="2.9" fill="none" stroke="#0aa2ff" stroke-width="2"/>
<circle cx="349.9" cy="107.5" r="2.9" fill="none" stroke="#0aa0ff" stroke-width="2"/>
<circle cx="349.9" cy="108.8" r="2.9" fill="none" stroke="#0a9eff" stroke-width="2"/>
<circle cx="349.9" cy="110" r="2.9" fill="none" stroke="#0a9bff" stroke-width="2"/>
<ellipse cx="349.9" cy="107.1" rx="1.2" ry="0.5" fill="#8cd2ff"/>
<circle cx="428.8" cy="102.6" r="2.9" fill="none" stroke="#0a78ff" stroke-width="2"/>
<circle cx="428.8" cy="103.9" r="2.9" fill="none" stroke="#0a78ff" stroke-width="2"/>
<circle cx="428.8" cy="105.2" r="2.9" fill="none" stroke="#0a78ff" stroke-width="2"/>
<circle cx="428.8" cy="106.4" r="2.9" fill="none" stroke="#0a78ff" stroke-width="2"/>
<circle cx="428.8" cy="107.7" r="2.9" fill="none" stroke="#0a78ff" stroke-width="2"/>
<circle cx="428.8" cy="109" r="2.9" fill="none" stroke="#0a78ff" stroke-width="2"/>
<circle cx="403.9" cy="117.2" r="2.9" fill="none" stroke="#0aafff" stroke-width="2"/>
<circle cx="403.9" cy="118.5" r="2.9" fill="none" stroke="#0aacff" stroke-width="2"/>
<circle cx="403.9" cy="119.8" r="2.9" fill="none" stroke="#0aaaff" stroke-width="2"/>
<circle cx="403.9" cy="121.1" r="2.9" fill="none" stroke="#0aa8ff" stroke-width="2"/>
<circle cx="403.9" cy="122.3" r="2.9" fill="none" stroke="#0aa5ff" stroke-width="2"/>
<circle cx="403.9" cy="123.6" r="2.9" fill="none" stroke="#0aa2ff" stroke-width="2"/>
<circle cx="403.9" cy="124.9" r="2.9" fill="none" stroke="#0aa0ff" stroke-width="2"/>
<circle cx="363" cy="130.9" r="2.9" fill="none" stroke="#0a78ff" stroke-width="2"/>
<circle cx="363" cy="132.2" r="2.9" fill="none" stroke="#0a78ff" stroke-width="2"/>
<circle cx="363" cy="133.4" r="2.9" fill="none" stroke="#0a78ff" stroke-width="2"/>
<circle cx="363" cy="134.7" r="2.9" fill="none" stroke="#0a78ff" stroke-width="2"/>
<circle cx="363" cy="135.9" r="2.9" fill="none" stroke="#0a78ff" stroke-width="2"/>
<ellipse cx="363" cy="133.2" rx="1.2" ry="0.5" fill="#8cc0ff"/>
<circle cx="394.3" cy="136.4" r="2.9" fill="none" stroke="#0a78ff" stroke-width="2"/>
<circle cx="394.3" cy="137.7" r="2.9" fill="none" stroke="#0a78ff" stroke-width="2"/>
<circle cx="394.3" cy="139" r="2.9" fill="none" stroke="#0a78ff" stroke-width="2"/>
<circle cx="394.3" cy="140.2" r="2.9" fill="none" stroke="#0a78ff" stroke-width="2"/>
<circle cx="394.3" cy="141.5" r="2.9" fill="none" stroke="#0a78ff" stroke-width="2"/>
<circle cx="394.3" cy="142.8" r="2.9" fill="none" stroke="#0a78ff" stroke-width="2"/>
<circle cx="394.3" cy="144.1" r="2.9" fill="none" stroke="#0a78ff" stroke-width="2"/>
<circle cx="394.3" cy="144.2" r="2.9" fill="none" stroke="#00c8ff" stroke-width="2"/>
<circle cx="433.7" cy="130.8" r="2.9" fill="none" stroke="#0a82ff" stroke-width="2"/>
<circle cx="433.7" cy="131.9" r="2.9" fill="none" stroke="#0d85ff" stroke-width="2"/>
<circle cx="433.7" cy="133.1" r="2.9" fill="none" stroke="#1088ff" stroke-width="2"/>
<circle cx="433.7" cy="134.2" r="2.9" fill="none" stroke="#138bff" stroke-width="2"/>
<circle cx="433.7" cy="135.3" r="2.9" fill="none" stroke="#158dff" stroke-width="2"/>
<circle cx="433.7" cy="136.4" r="2.9" fill="none" stroke="#1890ff" stroke-width="2"/>
<circle cx="433.7" cy="137.6" r="2.9" fill="none" stroke="#1b93ff" stroke-width="2"/>
<circle cx="433.7" cy="138.7" r="2.9" fill="none" stroke="#1e96ff" stroke-width="2"/>
<circle cx="433.7" cy="139" r="3.3" fill="none" stroke="#e61e00" stroke-width="1.1"/>
<circle cx="406.3" cy="142.8" r="2.9" fill="none" stroke="#0a78ff" stroke-width="2"/>
<circle cx="406.3" cy="143.9" r="2.9" fill="none" stroke="#0a78ff" stroke-width="2"/>
<circle cx="406.3" cy="145.1" r="2.9" fill="none" stroke="#0a78ff" stroke-width="2"/>
<circle cx="406.3" cy="146.2" r="2.9" fill="none" stroke="#0a78ff" stroke-width="2"/>
<circle cx="406.3" cy="147.3" r="2.9" fill="none" stroke="#0a78ff" stroke-width="2"/>
<circle cx="406.3" cy="148.5" r="2.9" fill="none" stroke="#0a78ff" stroke-width="2"/>
<circle cx="406.3" cy="149.6" r="2.9" fill="none" stroke="#0a78ff" stroke-width="2"/>
<circle cx="324.7" cy="158.6" r="2.9" fill="none" stroke="#32f0c8" stroke-width="2"/>
<circle cx="324.7" cy="159.9" r="2.9" fill="none" stroke="#26f0dc" stroke-width="2"/>
<circle cx="324.7" cy="161.3" r="2.9" fill="none" stroke="#19f0f0" stroke-width="2"/>
<circle cx="341.9" cy="151.5" r="2.9" fill="none" stroke="#0a78ff" stroke-width="2"/>
<circle cx="341.9" cy="152.7" r="2.9" fill="none" stroke="#0a78ff" stroke-width="2"/>
<circle cx="341.9" cy="153.9" r="2.9" fill="none" stroke="#0a78ff" stroke-width="2"/>
<circle cx="341.9" cy="155" r="2.9" fill="none" stroke="#0a78ff" stroke-width="2"/>
<circle cx="341.9" cy="156.2" r="2.9" fill="none" stroke="#0a78ff" stroke-width="2"/>
<circle cx="341.9" cy="157.4" r="2.9" fill="none" stroke="#0a78ff" stroke-width="2"/>
<circle cx="375.4" cy="159.1" r="2.9" fill="none" stroke="#0a8cff" stroke-width="2"/>
<circle cx="375.4" cy="160.3" r="2.9" fill="none" stroke="#0b8dff" stroke-width="2"/>
<circle cx="375.4" cy="161.4" r="2.9" fill="none" stroke="#0d8fff" stroke-width="2"/>
<circle cx="375.4" cy="162.6" r="2.9" fill="none" stroke="#0e90ff" stroke-width="2"/>
<circle cx="375.4" cy="163.8" r="2.9" fill="none" stroke="#1092ff" stroke-width="2"/>
<circle cx="375.4" cy="165" r="2.9" fill="none" stroke="#1193ff" stroke-width="2"/>
<circle cx="375.4" cy="166.1" r="2.9" fill="none" stroke="#1395ff" stroke-width="2"/>
<circle cx="375.4" cy="167.3" r="2.9" fill="none" stroke="#1496ff" stroke-width="2"/>
<circle cx="409.7" cy="177" r="2.9" fill="none" stroke="#0a78ff" stroke-width="2"/>
<circle cx="409.7" cy="178.3" r="2.9" fill="none" stroke="#0d7bff" stroke-width="2"/>
<circle cx="409.7" cy="179.5" r="2.9" fill="none" stroke="#107eff" stroke-width="2"/>
<circle cx="409.7" cy="180.8" r="2.9" fill="none" stroke="#1381ff" stroke-width="2"/>
<circle cx="409.7" cy="182" r="2.9" fill="none" stroke="#1583ff" stroke-width="2"/>
<circle cx="409.7" cy="183.3" r="2.9" fill="none" stroke="#1886ff" stroke-width="2"/>
<circle cx="409.7" cy="184.5" r="2.9" fill="none" stroke="#1b89ff" stroke-width="2"/>
<circle cx="409.7" cy="185.8" r="2.9" fill="none" stroke="#1e8cff" stroke-width="2"/>
<circle cx="439.4" cy="163.9" r="2.9" fill="none" stroke="#19e0ff" stroke-width="2"/>
<circle cx="439.4" cy="165.1" r="2.9" fill="none" stroke="#19e0ff" stroke-width="2"/>
<circle cx="439.4" cy="166.2" r="2.9" fill="none" stroke="#19e0ff" stroke-width="2"/>
<circle cx="439.4" cy="167.4" r="2.9" fill="none" stroke="#19e0ff" stroke-width="2"/>
<circle cx="439.4" cy="168.6" r="2.9" fill="none" stroke="#19e0ff" stroke-width="2"/>
<circle cx="439.4" cy="169.8" r="2.9" fill="none" stroke="#19e0ff" stroke-width="2"/>
<circle cx="439.4" cy="170.9" r="2.9" fill="none" stroke="#19e0ff" stroke-width="2"/>
<circle cx="439.4" cy="172.1" r="2.9" fill="none" stroke="#19e0ff" stroke-width="2"/>
<circle cx="456.2" cy="159.9" r="2.9" fill="none" stroke="#0aa5ff" stroke-width="2"/>
<circle cx="456.2" cy="161.1" r="2.9" fill="none" stroke="#0aa5ff" stroke-width="2"/>
<circle cx="456.2" cy="162.3" r="2.9" fill="none" stroke="#0aa5ff" stroke-width="2"/>
<circle cx="456.2" cy="163.5" r="2.9" fill="none" stroke="#0aa5ff" stroke-width="2"/>
<circle cx="456.2" cy="164.7" r="2.9" fill="none" stroke="#0aa5ff" stroke-width="2"/>
<circle cx="450.6" cy="183.9" r="2.9" fill="none" stroke="#0a96ff" stroke-width="2"/>
<circle cx="450.6" cy="185" r="2.9" fill="none" stroke="#0a96ff" stroke-width="2"/>
<circle cx="450.6" cy="186.2" r="2.9" fill="none" stroke="#0a96ff" stroke-width="2"/>
<circle cx="450.6" cy="187.3" r="2.9" fill="none" stroke="#0a96ff" stroke-width="2"/>
<circle cx="450.6" cy="188.5" r="2.9" fill="none" stroke="#0a96ff" stroke-width="2"/>
<circle cx="450.6" cy="189.6" r="2.9" fill="none" stroke="#0a96ff" stroke-width="2"/>
<circle cx="450.6" cy="190.8" r="2.9" fill="none" stroke="#0a96ff" stroke-width="2"/>
<circle cx="450.6" cy="191.9" r="2.9" fill="none" stroke="#0a96ff" stroke-width="2"/>
<circle cx="385.1" cy="212" r="2.9" fill="none" stroke="#0aa0ff" stroke-width="2"/>
<circle cx="385.1" cy="213.2" r="2.9" fill="none" stroke="#0aa0ff" stroke-width="2"/>
<circle cx="385.1" cy="214.4" r="2.9" fill="none" stroke="#0aa0ff" stroke-width="2"/>
<circle cx="385.1" cy="215.6" r="2.9" fill="none" stroke="#0aa0ff" stroke-width="2"/>
<circle cx="385.1" cy="216.8" r="2.9" fill="none" stroke="#0aa0ff" stroke-width="2"/>
<circle cx="369.1" cy="234.6" r="2.9" fill="none" stroke="#0aaaff" stroke-width="2"/>
<circle cx="369.1" cy="235.9" r="2.9" fill="none" stroke="#0aaaff" stroke-width="2"/>
<circle cx="369.1" cy="237.2" r="2.9" fill="none" stroke="#0aaaff" stroke-width="2"/>
<circle cx="399.3" cy="237.2" r="2.9" fill="none" stroke="#0ab4ff" stroke-width="2"/>
<circle cx="399.3" cy="238.5" r="2.9" fill="none" stroke="#0aaaff" stroke-width="2"/>
<circle cx="399.3" cy="239.8" r="2.9" fill="none" stroke="#0aa0ff" stroke-width="2"/>
<circle cx="399.3" cy="241" r="2.9" fill="none" stroke="#0a96ff" stroke-width="2"/>
<circle cx="399.3" cy="242.3" r="2.9" fill="none" stroke="#0a8cff" stroke-width="2"/>
<circle cx="462" cy="215.1" r="2.9" fill="none" stroke="#0a8cff" stroke-width="2"/>
<circle cx="462" cy="216.4" r="2.9" fill="none" stroke="#0c8eff" stroke-width="2"/>
<circle cx="462" cy="217.7" r="2.9" fill="none" stroke="#0e90ff" stroke-width="2"/>
<circle cx="462" cy="218.9" r="2.9" fill="none" stroke="#1092ff" stroke-width="2"/>
<circle cx="462" cy="220.2" r="2.9" fill="none" stroke="#1294ff" stroke-width="2"/>
<circle cx="462" cy="221.5" r="2.9" fill="none" stroke="#1496ff" stroke-width="2"/>
<circle cx="447.9" cy="236.1" r="2.9" fill="none" stroke="#0a78ff" stroke-width="2"/>
<circle cx="447.9" cy="237.2" r="2.9" fill="none" stroke="#0a78ff" stroke-width="2"/>
<circle cx="447.9" cy="238.4" r="2.9" fill="none" stroke="#0a78ff" stroke-width="2"/>
<circle cx="447.9" cy="239.5" r="2.9" fill="none" stroke="#0a78ff" stroke-width="2"/>
<circle cx="447.9" cy="240.7" r="2.9" fill="none" stroke="#0a78ff" stroke-width="2"/>
<circle cx="447.9" cy="241.8" r="2.9" fill="none" stroke="#0a78ff" stroke-width="2"/>
<circle cx="447.9" cy="243" r="2.9" fill="none" stroke="#0a78ff" stroke-width="2"/>
<circle cx="447.9" cy="244.1" r="2.9" fill="none" stroke="#0a78ff" stroke-width="2"/>
<circle cx="447.9" cy="244.2" r="2.9" fill="none" stroke="#00c8ff" stroke-width="2"/>
<circle cx="480.5" cy="264.2" r="2.9" fill="none" stroke="#0a6eff" stroke-width="2"/>
<circle cx="480.5" cy="265.3" r="2.9" fill="none" stroke="#0a6eff" stroke-width="2"/>
<circle cx="480.5" cy="266.5" r="2.9" fill="none" stroke="#0a6eff" stroke-width="2"/>
<circle cx="480.5" cy="267.6" r="2.9" fill="none" stroke="#0a6eff" stroke-width="2"/>
<circle cx="480.5" cy="268.7" r="2.9" fill="none" stroke="#0a6eff" stroke-width="2"/>
<circle cx="480.5" cy="269.9" r="2.9" fill="none" stroke="#0a6eff" stroke-width="2"/>
<circle cx="480.5" cy="271" r="2.9" fill="none" stroke="#0a6eff" stroke-width="2"/>
<circle cx="480.5" cy="271.1" r="2.9" fill="none" stroke="#0a96ff" stroke-width="2"/>
<circle cx="438.1" cy="301.9" r="2.9" fill="none" stroke="#19f0f0" stroke-width="2"/>
<circle cx="437.9" cy="299.9" r="2.9" fill="none" stroke="#5af0a0" stroke-width="2"/>
<circle cx="456.4" cy="290.4" r="2.9" fill="none" stroke="#0aa5ff" stroke-width="2"/>
<circle cx="456.4" cy="291.5" r="2.9" fill="none" stroke="#0cb0ff" stroke-width="2"/>
<circle cx="456.4" cy="292.6" r="2.9" fill="none" stroke="#0fbbff" stroke-width="2"/>
<circle cx="456.4" cy="293.8" r="2.9" fill="none" stroke="#12c6ff" stroke-width="2"/>
<circle cx="456.4" cy="294.9" r="2.9" fill="none" stroke="#14d0ff" stroke-width="2"/>
<circle cx="456.4" cy="296" r="2.9" fill="none" stroke="#16dbff" stroke-width="2"/>
<circle cx="456.4" cy="297.1" r="2.9" fill="none" stroke="#19e6ff" stroke-width="2"/>
<circle cx="492.4" cy="286.9" r="2.9" fill="none" stroke="#0aa5ff" stroke-width="2"/>
<circle cx="492.4" cy="287.9" r="2.9" fill="none" stroke="#0aa5ff" stroke-width="2"/>
<circle cx="492.4" cy="289" r="2.9" fill="none" stroke="#0aa5ff" stroke-width="2"/>
<circle cx="492.4" cy="290.1" r="2.9" fill="none" stroke="#0aa5ff" stroke-width="2"/>
<circle cx="492.4" cy="291.1" r="2.9" fill="none" stroke="#0aa5ff" stroke-width="2"/>
<circle cx="492.4" cy="291.2" r="2.9" fill="none" stroke="#32e6c8" stroke-width="2"/>
<circle cx="474.1" cy="308.9" r="2.9" fill="none" stroke="#19dcff" stroke-width="2"/>
<circle cx="474.1" cy="310" r="2.9" fill="none" stroke="#19dcff" stroke-width="2"/>
<circle cx="474.1" cy="311.1" r="2.9" fill="none" stroke="#19dcff" stroke-width="2"/>
<circle cx="474.1" cy="312.3" r="2.9" fill="none" stroke="#19dcff" stroke-width="2"/>
<circle cx="474.1" cy="313.4" r="2.9" fill="none" stroke="#19dcff" stroke-width="2"/>
<circle cx="497.7" cy="306.6" r="2.9" fill="none" stroke="#19dcff" stroke-width="2"/>
<circle cx="497.7" cy="307.8" r="2.9" fill="none" stroke="#1ddef9" stroke-width="2"/>
<circle cx="497.7" cy="309" r="2.9" fill="none" stroke="#20e1f2" stroke-width="2"/>
<circle cx="497.7" cy="310.2" r="2.9" fill="none" stroke="#24e4ec" stroke-width="2"/>
<circle cx="497.7" cy="311.4" r="2.9" fill="none" stroke="#28e6e6" stroke-width="2"/>
<circle cx="493" cy="321.5" r="2.9" fill="none" stroke="#19dcff" stroke-width="2"/>
<circle cx="493" cy="322.6" r="2.9" fill="none" stroke="#1fdef6" stroke-width="2"/>
<circle cx="493" cy="323.6" r="2.9" fill="none" stroke="#26e1ee" stroke-width="2"/>
<circle cx="493" cy="324.7" r="2.9" fill="none" stroke="#2ce4e5" stroke-width="2"/>
<circle cx="493" cy="325.7" r="2.9" fill="none" stroke="#32e6dc" stroke-width="2"/>
<ellipse cx="493" cy="323.3" rx="1.2" ry="0.5" fill="#d0fff0"/>
<circle cx="505" cy="323.5" r="2.9" fill="none" stroke="#0aa5ff" stroke-width="2"/>
<circle cx="505" cy="324.9" r="2.9" fill="none" stroke="#17bbed" stroke-width="2"/>
<circle cx="505" cy="326.2" r="2.9" fill="none" stroke="#25d0da" stroke-width="2"/>
<circle cx="505" cy="327.6" r="2.9" fill="none" stroke="#32e6c8" stroke-width="2"/>
<circle cx="513.4" cy="341" r="2.9" fill="none" stroke="#19c8ff" stroke-width="2"/>
<circle cx="513.4" cy="342.1" r="2.9" fill="none" stroke="#19c8ff" stroke-width="2"/>
<circle cx="513.4" cy="343.3" r="2.9" fill="none" stroke="#19c8ff" stroke-width="2"/>
<circle cx="513.4" cy="344.4" r="2.9" fill="none" stroke="#19c8ff" stroke-width="2"/>
<circle cx="513.4" cy="345.6" r="2.9" fill="none" stroke="#19c8ff" stroke-width="2"/>
<circle cx="513.4" cy="346.7" r="2.9" fill="none" stroke="#19c8ff" stroke-width="2"/>
<circle cx="519.7" cy="352.7" r="2.9" fill="none" stroke="#19c8ff" stroke-width="2"/>
<circle cx="519.7" cy="353.9" r="2.9" fill="none" stroke="#19c8ff" stroke-width="2"/>
<circle cx="519.7" cy="355.1" r="2.9" fill="none" stroke="#19c8ff" stroke-width="2"/>
<circle cx="519.7" cy="356.3" r="2.9" fill="none" stroke="#19c8ff" stroke-width="2"/>
<ellipse cx="519.7" cy="354.3" rx="1.2" ry="0.5" fill="#f0ffff"/>
<circle cx="531.5" cy="374.8" r="2.9" fill="none" stroke="#19c8ff" stroke-width="2"/>
<circle cx="531.5" cy="376" r="2.9" fill="none" stroke="#19c9ff" stroke-width="2"/>
<circle cx="531.5" cy="377.1" r="2.9" fill="none" stroke="#19cbff" stroke-width="2"/>
<circle cx="531.5" cy="378.3" r="2.9" fill="none" stroke="#19ccff" stroke-width="2"/>
<circle cx="531.5" cy="379.5" r="2.9" fill="none" stroke="#19ceff" stroke-width="2"/>
<circle cx="531.5" cy="380.7" r="2.9" fill="none" stroke="#19cfff" stroke-width="2"/>
<circle cx="531.5" cy="381.8" r="2.9" fill="none" stroke="#19d1ff" stroke-width="2"/>
<circle cx="531.5" cy="383" r="2.9" fill="none" stroke="#19d2ff" stroke-width="2"/>
<circle cx="538.3" cy="396.7" r="2.9" fill="none" stroke="#19afff" stroke-width="2"/>
<circle cx="538.3" cy="398" r="2.9" fill="none" stroke="#19afff" stroke-width="2"/>
<circle cx="538.3" cy="399.4" r="2.9" fill="none" stroke="#19afff" stroke-width="2"/>
<circle cx="538.3" cy="400.7" r="2.9" fill="none" stroke="#19afff" stroke-width="2"/>
<circle cx="538.3" cy="400.8" r="2.9" fill="none" stroke="#32e6b4" stroke-width="2"/>
<ellipse cx="538.3" cy="398.6" rx="1.2" ry="0.5" fill="#f0fff0"/>
<circle cx="543.1" cy="410.4" r="2.9" fill="none" stroke="#19beff" stroke-width="2"/>
<circle cx="543.1" cy="411.7" r="2.9" fill="none" stroke="#19beff" stroke-width="2"/>
<circle cx="543.1" cy="412.9" r="2.9" fill="none" stroke="#19beff" stroke-width="2"/>
<circle cx="543.1" cy="414.2" r="2.9" fill="none" stroke="#19beff" stroke-width="2"/>
<circle cx="543.1" cy="415.4" r="2.9" fill="none" stroke="#19beff" stroke-width="2"/>
<circle cx="543.1" cy="416.7" r="2.9" fill="none" stroke="#19beff" stroke-width="2"/>
<circle cx="548.3" cy="417.9" r="2.9" fill="none" stroke="#19beff" stroke-width="2"/>
<circle cx="548.3" cy="419" r="2.9" fill="none" stroke="#16b6ff" stroke-width="2"/>
<circle cx="548.3" cy="420.2" r="2.9" fill="none" stroke="#13aeff" stroke-width="2"/>
<circle cx="548.3" cy="421.3" r="2.9" fill="none" stroke="#10a6ff" stroke-width="2"/>
<circle cx="548.3" cy="422.5" r="2.9" fill="none" stroke="#0d9eff" stroke-width="2"/>
<circle cx="548.3" cy="423.6" r="2.9" fill="none" stroke="#0a96ff" stroke-width="2"/>
<circle cx="548" cy="424" r="2.9" fill="none" stroke="#50f096" stroke-width="2"/>
<circle cx="531" cy="428.3" r="2.9" fill="none" stroke="#19f0f0" stroke-width="2"/>
<circle cx="530.8" cy="426.2" r="2.9" fill="none" stroke="#5af096" stroke-width="2"/>
<circle cx="539.5" cy="437" r="2.9" fill="none" stroke="#0a96ff" stroke-width="2"/>
<circle cx="539.5" cy="438.2" r="2.9" fill="none" stroke="#0e9bff" stroke-width="2"/>
<circle cx="539.5" cy="439.4" r="2.9" fill="none" stroke="#12a0ff" stroke-width="2"/>
<circle cx="539.5" cy="440.6" r="2.9" fill="none" stroke="#15a5ff" stroke-width="2"/>
<circle cx="539.5" cy="441.8" r="2.9" fill="none" stroke="#19aaff" stroke-width="2"/>
<ellipse cx="539.5" cy="439.2" rx="1.2" ry="0.5" fill="#e0f4ff"/>
<circle cx="555.7" cy="435.9" r="2.9" fill="none" stroke="#0a96ff" stroke-width="2"/>
<circle cx="555.7" cy="437.1" r="2.9" fill="none" stroke="#0fa7ff" stroke-width="2"/>
<circle cx="555.7" cy="438.3" r="2.9" fill="none" stroke="#14b7ff" stroke-width="2"/>
<circle cx="555.7" cy="439.5" r="2.9" fill="none" stroke="#19c8ff" stroke-width="2"/>
<circle cx="542.9" cy="451.9" r="2.9" fill="none" stroke="#19c8ff" stroke-width="2"/>
<circle cx="542.9" cy="452.9" r="2.9" fill="none" stroke="#19c8ff" stroke-width="2"/>
<circle cx="542.9" cy="454" r="2.9" fill="none" stroke="#19c8ff" stroke-width="2"/>
<circle cx="542.9" cy="455.1" r="2.9" fill="none" stroke="#19c8ff" stroke-width="2"/>
<circle cx="542.9" cy="456.1" r="2.9" fill="none" stroke="#19c8ff" stroke-width="2"/>
<circle cx="518.5" cy="457.8" r="2.9" fill="none" stroke="#1e8cff" stroke-width="2"/>
<circle cx="518.5" cy="458.9" r="2.9" fill="none" stroke="#1e8cff" stroke-width="2"/>
<circle cx="518.5" cy="459.9" r="2.9" fill="none" stroke="#1e8cff" stroke-width="2"/>
<circle cx="534.3" cy="460.6" r="2.9" fill="none" stroke="#1e8cff" stroke-width="2"/>
<circle cx="534.3" cy="461.8" r="2.9" fill="none" stroke="#1e8cff" stroke-width="2"/>
<circle cx="534.3" cy="463" r="2.9" fill="none" stroke="#1e8cff" stroke-width="2"/>
<circle cx="534.3" cy="464.2" r="2.9" fill="none" stroke="#1e8cff" stroke-width="2"/>
<circle cx="527.2" cy="474.9" r="2.9" fill="none" stroke="#0a78ff" stroke-width="2"/>
<circle cx="527.2" cy="476.1" r="2.9" fill="none" stroke="#0a72ff" stroke-width="2"/>
<circle cx="527.2" cy="477.4" r="2.9" fill="none" stroke="#0a6dff" stroke-width="2"/>
<circle cx="527.2" cy="478.6" r="2.9" fill="none" stroke="#0a67ff" stroke-width="2"/>
<circle cx="527.2" cy="479.8" r="2.9" fill="none" stroke="#0a62ff" stroke-width="2"/>
<circle cx="527.2" cy="481.1" r="2.9" fill="none" stroke="#0a5cff" stroke-width="2"/>
<circle cx="527.2" cy="482.3" r="2.9" fill="none" stroke="#0a57ff" stroke-width="2"/>
<circle cx="527.2" cy="483.5" r="2.9" fill="none" stroke="#0a51ff" stroke-width="2"/>
<circle cx="527.2" cy="484.8" r="2.9" fill="none" stroke="#0a4cff" stroke-width="2"/>
<circle cx="527.2" cy="486" r="2.9" fill="none" stroke="#0a46ff" stroke-width="2"/>
<ellipse cx="527.2" cy="477" rx="1.2" ry="0.5" fill="#d8ecff"/>
<circle cx="541" cy="473.9" r="2.9" fill="none" stroke="#19c8ff" stroke-width="2"/>
<circle cx="541" cy="474.9" r="2.9" fill="none" stroke="#19cdff" stroke-width="2"/>
<circle cx="541" cy="476" r="2.9" fill="none" stroke="#19d2ff" stroke-width="2"/>
<circle cx="541" cy="477.1" r="2.9" fill="none" stroke="#19d7ff" stroke-width="2"/>
<circle cx="541" cy="478.1" r="2.9" fill="none" stroke="#19dcff" stroke-width="2"/>
<circle cx="548" cy="471.9" r="2.9" fill="none" stroke="#19c8ff" stroke-width="2"/>
<circle cx="548" cy="472.9" r="2.9" fill="none" stroke="#19c8ff" stroke-width="2"/>
<circle cx="548" cy="474" r="2.9" fill="none" stroke="#19c8ff" stroke-width="2"/>
<circle cx="548" cy="475.1" r="2.9" fill="none" stroke="#19c8ff" stroke-width="2"/>
<circle cx="548" cy="476.1" r="2.9" fill="none" stroke="#19c8ff" stroke-width="2"/>
<circle cx="514.3" cy="489.6" r="2.9" fill="none" stroke="#1e8cff" stroke-width="2"/>
<circle cx="514.3" cy="490.9" r="2.9" fill="none" stroke="#1c96ff" stroke-width="2"/>
<circle cx="514.3" cy="492.1" r="2.9" fill="none" stroke="#1ba0ff" stroke-width="2"/>
<circle cx="514.3" cy="493.4" r="2.9" fill="none" stroke="#19aaff" stroke-width="2"/>
<ellipse cx="514.3" cy="491.4" rx="1.2" ry="0.5" fill="#e6f4ff"/>
<circle cx="540.2" cy="488" r="2.9" fill="none" stroke="#19f0f0" stroke-width="2"/>
<circle cx="540.2" cy="486.5" r="2.9" fill="none" stroke="#32f0dc" stroke-width="2"/>
<circle cx="553.7" cy="487.8" r="2.9" fill="none" stroke="#32f0dc" stroke-width="2"/>
<circle cx="553.7" cy="488.8" r="2.9" fill="none" stroke="#32f0dc" stroke-width="2"/>
<circle cx="553.7" cy="489.7" r="2.9" fill="none" stroke="#32f0dc" stroke-width="2"/>
<circle cx="512.3" cy="502.8" r="2.9" fill="none" stroke="#0000c8" stroke-width="2"/>
<circle cx="512.3" cy="503.8" r="2.9" fill="none" stroke="#0000c8" stroke-width="2"/>
<circle cx="512.3" cy="504.8" r="2.9" fill="none" stroke="#0000c8" stroke-width="2"/>
<circle cx="539.4" cy="496.9" r="2.9" fill="none" stroke="#19c8ff" stroke-width="2"/>
<circle cx="539.4" cy="498.3" r="2.9" fill="none" stroke="#19c8ff" stroke-width="2"/>
<circle cx="539.4" cy="499.7" r="2.9" fill="none" stroke="#19c8ff" stroke-width="2"/>
<circle cx="559.4" cy="500.2" r="2.9" fill="none" stroke="#19d2ff" stroke-width="2"/>
<circle cx="559.4" cy="501.1" r="2.9" fill="none" stroke="#19d2ff" stroke-width="2"/>
<circle cx="559.4" cy="502.1" r="2.9" fill="none" stroke="#19d2ff" stroke-width="2"/>
<circle cx="536.1" cy="510.4" r="2.9" fill="none" stroke="#50f0b4" stroke-width="2"/>
<circle cx="536.1" cy="512.1" r="2.9" fill="none" stroke="#50f0b4" stroke-width="2"/>
<circle cx="521.9" cy="519.7" r="2.9" fill="none" stroke="#19f0f0" stroke-width="2"/>
<circle cx="521.9" cy="518.2" r="2.9" fill="none" stroke="#c8ff32" stroke-width="2"/>
<circle cx="513.4" cy="518.7" r="2.9" fill="none" stroke="#50f0c8" stroke-width="2"/>
<circle cx="513.4" cy="519.6" r="2.9" fill="none" stroke="#50f0c8" stroke-width="2"/>
<circle cx="513.4" cy="520.5" r="2.9" fill="none" stroke="#50f0c8" stroke-width="2"/>
<circle cx="521.9" cy="528.1" r="2.9" fill="none" stroke="#a0ff50" stroke-width="2"/>
<circle cx="521.9" cy="529.7" r="2.9" fill="none" stroke="#a0ff50" stroke-width="2"/>
<circle cx="534.3" cy="526.5" r="2.9" fill="none" stroke="#64ff96" stroke-width="2"/>
<circle cx="540.2" cy="525.1" r="2.9" fill="none" stroke="#64ff96" stroke-width="2"/>
<text x="388.3" y="74.5">33</text>
<text x="352.6" y="107.8">31</text>
<text x="431.8" y="104.7">22</text>
<text x="406.7" y="119.9">23B</text>
<text x="406.7" y="119.9">34B</text>
<text x="365.8" y="133.7">26S</text>
<text x="398.4" y="138.3">W1</text>
<text x="437.3" y="132.9">21</text>
<text x="409.5" y="145.6">23ES</text>
<text x="328" y="161.2">28</text>
<text x="345.2" y="153.6">W2</text>
<text x="379.3" y="162">W4</text>
<text x="379.3" y="162">23S</text>
<text x="412.8" y="179.7">39</text>
<text x="443.3" y="166.8">W3</text>
<text x="460.6" y="162.5">20</text>
<text x="472.6" y="166.8">20S</text>
<text x="455.5" y="186.9">19</text>
<text x="388.2" y="215">41</text>
<text x="372" y="237.5">43S</text>
<text x="402.5" y="240.2">45</text>
<text x="465.6" y="217.7">W5</text>
<text x="451.4" y="238.6">W6</text>
<text x="484.8" y="266.8">W7</text>
<text x="441" y="303.2">65S</text>
<text x="459.6" y="293">64</text>
<text x="496.7" y="289.9">W14</text>
<text x="535.4" y="289.9">16S</text>
<text x="477" y="311.6">68</text>
<text x="500.7" y="308.7">53</text>
<text x="495.9" y="324.7">69</text>
<text x="509" y="324.7">54</text>
<text x="517.4" y="343.3">55</text>
<text x="523.3" y="355.5">W8</text>
<text x="535.2" y="377.8">56</text>
<text x="543" y="399.7">W13</text>
<text x="582" y="399.2">14</text>
<text x="547.2" y="413.2">13B</text>
<text x="551.8" y="424.8">49S</text>
<text x="533.8" y="429.2">44S</text>
<text x="544.3" y="439.7">12B</text>
<text x="560.3" y="439.7">46S</text>
<text x="546.3" y="453.4">W9</text>
<text x="522.3" y="460.6">57B</text>
<text x="531.9" y="474.8">W10</text>
<text x="546.1" y="473">59S</text>
<text x="532.9" y="477.5">W12</text>
<text x="533.9" y="479.9">W10</text>
<text x="532.5" y="483.9">36S</text>
<text x="517.2" y="492.2">36S</text>
<text x="547.7" y="488.2">6</text>
<text x="559.9" y="488.5">W11</text>
<text x="516.1" y="504.5">60B</text>
<text x="542.5" y="504.5">P</text>
<text x="562.1" y="501.7">7</text>
<text x="539.1" y="515.1">60C</text>
<text x="515.8" y="521.5">62</text>
<text x="527.3" y="521.3">W12</text>
<text x="524.9" y="529.7">2</text>
<text x="536.8" y="527.7">3B</text>
<text x="541.5" y="527.7">3C</text>
<line id="bar57" x1="552.6" y1="452.6" x2="552.6" y2="462.8" stroke="#000" stroke-width="1.3"/>
</g>
<g id="frame" stroke="#000" stroke-width="1" fill="none">
<path d="M179.5 49.0H631.7V584.0H179.5Z M184.5 54.5V578.5H626.5V54.5Z" fill="#fff" fill-rule="evenodd" stroke="none"/>
<rect x="179.5" y="578.5" width="41.1" height="3.0" fill="#e4e4e4" stroke="none"/>
<line x1="181.9" y1="581.5" x2="220.6" y2="581.5"/>
<rect x="220.6" y="51.5" width="41.1" height="3.0" fill="#e4e4e4" stroke="none"/>
<line x1="220.6" y1="51.5" x2="261.7" y2="51.5"/>
<line x1="220.6" y1="49.0" x2="220.6" y2="54.5"/>
<line x1="220.6" y1="584.0" x2="220.6" y2="578.5"/>
<rect x="261.7" y="578.5" width="41.1" height="3.0" fill="#e4e4e4" stroke="none"/>
<line x1="261.7" y1="581.5" x2="302.8" y2="581.5"/>
<line x1="261.7" y1="49.0" x2="261.7" y2="54.5"/>
<line x1="261.7" y1="584.0" x2="261.7" y2="578.5"/>
<rect x="302.8" y="51.5" width="41.1" height="3.0" fill="#e4e4e4" stroke="none"/>
<line x1="302.8" y1="51.5" x2="343.9" y2="51.5"/>
<line x1="302.8" y1="49.0" x2="302.8" y2="54.5"/>
<line x1="302.8" y1="584.0" x2="302.8" y2="578.5"/>
<rect x="343.9" y="578.5" width="41.1" height="3.0" fill="#e4e4e4" stroke="none"/>
<line x1="343.9" y1="581.5" x2="385.0" y2="581.5"/>
<line x1="343.9" y1="49.0" x2="343.9" y2="54.5"/>
<line x1="343.9" y1="584.0" x2="343.9" y2="578.5"/>
<rect x="385.0" y="51.5" width="41.1" height="3.0" fill="#e4e4e4" stroke="none"/>
<line x1="385.0" y1="51.5" x2="426.2" y2="51.5"/>
<line x1="385.0" y1="49.0" x2="385.0" y2="54.5"/>
<line x1="385.0" y1="584.0" x2="385.0" y2="578.5"/>
<rect x="426.2" y="578.5" width="41.1" height="3.0" fill="#e4e4e4" stroke="none"/>
<line x1="426.2" y1="581.5" x2="467.3" y2="581.5"/>
<line x1="426.2" y1="49.0" x2="426.2" y2="54.5"/>
<line x1="426.2" y1="584.0" x2="426.2" y2="578.5"/>
<rect x="467.3" y="51.5" width="41.1" height="3.0" fill="#e4e4e4" stroke="none"/>
<line x1="467.3" y1="51.5" x2="508.4" y2="51.5"/>
<line x1="467.3" y1="49.0" x2="467.3" y2="54.5"/>
<line x1="467.3" y1="584.0" x2="467.3" y2="578.5"/>
<rect x="508.4" y="578.5" width="41.1" height="3.0" fill="#e4e4e4" stroke="none"/>
<line x1="508.4" y1="581.5" x2="549.5" y2="581.5"/>
<line x1="508.4" y1="49.0" x2="508.4" y2="54.5"/>
<line x1="508.4" y1="584.0" x2="508.4" y2="578.5"/>
<rect x="549.5" y="51.5" width="41.1" height="3.0" fill="#e4e4e4" stroke="none"/>
<line x1="549.5" y1="51.5" x2="590.6" y2="51.5"/>
<line x1="549.5" y1="49.0" x2="549.5" y2="54.5"/>
<line x1="549.5" y1="584.0" x2="549.5" y2="578.5"/>
<rect x="590.6" y="578.5" width="20.6" height="3.0" fill="#e4e4e4" stroke="none"/>
<line x1="590.6" y1="581.5" x2="611.1" y2="581.5"/>
<line x1="590.6" y1="49.0" x2="590.6" y2="54.5"/>
<line x1="590.6" y1="584.0" x2="590.6" y2="578.5"/>
<rect x="611.1" y="51.5" width="20.6" height="3.0" fill="#e4e4e4" stroke="none"/>
<line x1="611.1" y1="51.5" x2="629.3" y2="51.5"/>
<line x1="611.1" y1="49.0" x2="611.1" y2="54.5"/>
<line x1="611.1" y1="584.0" x2="611.1" y2="578.5"/>
<line x1="629.1" y1="51.4" x2="629.1" y2="118.6" stroke="#555" stroke-width="1.5"/>
<line x1="181.9" y1="118.6" x2="181.9" y2="187.3" stroke="#555" stroke-width="1.5"/>
<line x1="179.5" y1="118.6" x2="184.5" y2="118.6"/>
<line x1="631.7" y1="118.6" x2="626.5" y2="118.6"/>
<line x1="629.1" y1="187.3" x2="629.1" y2="255.3" stroke="#555" stroke-width="1.5"/>
<line x1="179.5" y1="187.3" x2="184.5" y2="187.3"/>
<line x1="631.7" y1="187.3" x2="626.5" y2="187.3"/>
<line x1="181.9" y1="255.3" x2="181.9" y2="322.5" stroke="#555" stroke-width="1.5"/>
<line x1="179.5" y1="255.3" x2="184.5" y2="255.3"/>
<line x1="631.7" y1="255.3" x2="626.5" y2="255.3"/>
<line x1="629.1" y1="322.5" x2="629.1" y2="388.9" stroke="#555" stroke-width="1.5"/>
<line x1="179.5" y1="322.5" x2="184.5" y2="322.5"/>
<line x1="631.7" y1="322.5" x2="626.5" y2="322.5"/>
<line x1="181.9" y1="388.9" x2="181.9" y2="454.6" stroke="#555" stroke-width="1.5"/>
<line x1="179.5" y1="388.9" x2="184.5" y2="388.9"/>
<line x1="631.7" y1="388.9" x2="626.5" y2="388.9"/>
<line x1="629.1" y1="454.6" x2="629.1" y2="519.7" stroke="#555" stroke-width="1.5"/>
<line x1="179.5" y1="454.6" x2="184.5" y2="454.6"/>
<line x1="631.7" y1="454.6" x2="626.5" y2="454.6"/>
<line x1="181.9" y1="519.7" x2="181.9" y2="581.6" stroke="#555" stroke-width="1.5"/>
<line x1="179.5" y1="519.7" x2="184.5" y2="519.7"/>
<line x1="631.7" y1="519.7" x2="626.5" y2="519.7"/>
<line x1="179.5" y1="49.0" x2="179.5" y2="584.0" stroke="#1a1a1a" stroke-width="1"/>
<line x1="631.7" y1="49.0" x2="631.7" y2="584.0" stroke="#222"/>
<line x1="179.0" y1="49.0" x2="632.2" y2="49.0"/>
<line x1="179.0" y1="584.0" x2="632.2" y2="584.0"/>
<rect x="184.5" y="54.5" width="442.0" height="524.0"/>
<line x1="179.5" y1="49.0" x2="184.5" y2="54.5" stroke-width="0.8"/>
<line x1="631.7" y1="49.0" x2="626.5" y2="54.5" stroke-width="0.8"/>
<line x1="179.5" y1="584.0" x2="184.5" y2="578.5" stroke-width="0.8"/>
<line x1="631.7" y1="584.0" x2="626.5" y2="578.5" stroke-width="0.8"/>
<line x1="184.5" y1="573.6" x2="188.8" y2="578.5" stroke-width="0.7"/>
</g>
<g id="ticks" stroke="#000" stroke-width="2">
<line x1="174.0" y1="49.0" x2="179.5" y2="49.0"/>
<line x1="631.7" y1="49.0" x2="637.2" y2="49.0"/>
<line x1="174.0" y1="187.3" x2="179.5" y2="187.3"/>
<line x1="631.7" y1="187.3" x2="637.2" y2="187.3"/>
<line x1="174.0" y1="322.5" x2="179.5" y2="322.5"/>
<line x1="631.7" y1="322.5" x2="637.2" y2="322.5"/>
<line x1="174.0" y1="454.6" x2="179.5" y2="454.6"/>
<line x1="631.7" y1="454.6" x2="637.2" y2="454.6"/>
<line x1="174.0" y1="584.0" x2="179.5" y2="584.0"/>
<line x1="631.7" y1="584.0" x2="637.2" y2="584.0"/>
<line x1="179.5" y1="44.0" x2="179.5" y2="49.0"/>
<line x1="179.5" y1="584.0" x2="179.5" y2="589.0"/>
<line x1="261.7" y1="44.0" x2="261.7" y2="49.0"/>
<line x1="261.7" y1="584.0" x2="261.7" y2="589.0"/>
<line x1="343.9" y1="44.0" x2="343.9" y2="49.0"/>
<line x1="343.9" y1="584.0" x2="343.9" y2="589.0"/>
<line x1="426.2" y1="44.0" x2="426.2" y2="49.0"/>
<line x1="426.2" y1="584.0" x2="426.2" y2="589.0"/>
<line x1="508.4" y1="44.0" x2="508.4" y2="49.0"/>
<line x1="508.4" y1="584.0" x2="508.4" y2="589.0"/>
<line x1="590.6" y1="44.0" x2="590.6" y2="49.0"/>
<line x1="590.6" y1="584.0" x2="590.6" y2="589.0"/>
</g>
<g id="ticklabels" font-size="20" fill="#000">
<text x="120.3" y="59.6">54</text><text x="0" y="0" font-size="16.5" transform="translate(142.6 50.1) scale(1.1 0.97)">o</text><text x="152.9" y="59.6">N</text>
<text x="120.3" y="197.9">53</text><text x="0" y="0" font-size="16.5" transform="translate(142.6 188.4) scale(1.1 0.97)">o</text><text x="152.9" y="197.9">N</text>
<text x="120.3" y="333.1">52</text><text x="0" y="0" font-size="16.5" transform="translate(142.6 323.6) scale(1.1 0.97)">o</text><text x="152.9" y="333.1">N</text>
<text x="120.3" y="465.2">51</text><text x="0" y="0" font-size="16.5" transform="translate(142.6 455.7) scale(1.1 0.97)">o</text><text x="152.9" y="465.2">N</text>
<text x="120.3" y="594.6">50</text><text x="0" y="0" font-size="16.5" transform="translate(142.6 585.1) scale(1.1 0.97)">o</text><text x="152.9" y="594.6">N</text>
<text x="146.8" y="615.6">101</text><text x="0" y="0" font-size="16.5" transform="translate(181.7 606.0) scale(1.1 0.97)">o</text><text x="192.5" y="615.6">W</text>
<text x="229.0" y="615.6">100</text><text x="0" y="0" font-size="16.5" transform="translate(263.9 606.0) scale(1.1 0.97)">o</text><text x="274.7" y="615.6">W</text>
<text x="319.7" y="615.6">99</text><text x="0" y="0" font-size="16.5" transform="translate(343.1 606.0) scale(1.1 0.97)">o</text><text x="354.3" y="615.6">W</text>
<text x="402.0" y="615.6">98</text><text x="0" y="0" font-size="16.5" transform="translate(425.4 606.0) scale(1.1 0.97)">o</text><text x="436.6" y="615.6">W</text>
<text x="484.2" y="615.6">97</text><text x="0" y="0" font-size="16.5" transform="translate(507.6 606.0) scale(1.1 0.97)">o</text><text x="518.8" y="615.6">W</text>
<text x="566.4" y="615.6">96</text><text x="0" y="0" font-size="16.5" transform="translate(589.8 606.0) scale(1.1 0.97)">o</text><text x="601.0" y="615.6">W</text>
</g>
<g id="colorbar" shape-rendering="crispEdges">
<rect x="648.5" y="575.15" width="32.5" height="8.95" fill="rgb(128,0,0)"/>
<rect x="648.5" y="566.80" width="32.5" height="8.95" fill="rgb(143,0,0)"/>
<rect x="648.5" y="558.45" width="32.5" height="8.95" fill="rgb(159,0,0)"/>
<rect x="648.5" y="550.09" width="32.5" height="8.95" fill="rgb(175,0,0)"/>
<rect x="648.5" y="541.74" width="32.5" height="8.95" fill="rgb(191,0,0)"/>
<rect x="648.5" y="533.39" width="32.5" height="8.95" fill="rgb(207,0,0)"/>
<rect x="648.5" y="525.04" width="32.5" height="8.95" fill="rgb(223,0,0)"/>
<rect x="648.5" y="516.69" width="32.5" height="8.95" fill="rgb(239,0,0)"/>
<rect x="648.5" y="508.34" width="32.5" height="8.95" fill="rgb(255,0,0)"/>
<rect x="648.5" y="499.98" width="32.5" height="8.95" fill="rgb(255,16,0)"/>
<rect x="648.5" y="491.63" width="32.5" height="8.95" fill="rgb(255,32,0)"/>
<rect x="648.5" y="483.28" width="32.5" height="8.95" fill="rgb(255,48,0)"/>
<rect x="648.5" y="474.93" width="32.5" height="8.95" fill="rgb(255,64,0)"/>
<rect x="648.5" y="466.58" width="32.5" height="8.95" fill="rgb(255,80,0)"/>
<rect x="648.5" y="458.23" width="32.5" height="8.95" fill="rgb(255,96,0)"/>
<rect x="648.5" y="449.88" width="32.5" height="8.95" fill="rgb(255,112,0)"/>
<rect x="648.5" y="441.52" width="32.5" height="8.95" fill="rgb(255,128,0)"/>
<rect x="648.5" y="433.17" width="32.5" height="8.95" fill="rgb(255,143,0)"/>
<rect x="648.5" y="424.82" width="32.5" height="8.95" fill="rgb(255,159,0)"/>
<rect x="648.5" y="416.47" width="32.5" height="8.95" fill="rgb(255,175,0)"/>
<rect x="648.5" y="408.12" width="32.5" height="8.95" fill="rgb(255,191,0)"/>
<rect x="648.5" y="399.77" width="32.5" height="8.95" fill="rgb(255,207,0)"/>
<rect x="648.5" y="391.41" width="32.5" height="8.95" fill="rgb(255,223,0)"/>
<rect x="648.5" y="383.06" width="32.5" height="8.95" fill="rgb(255,239,0)"/>
<rect x="648.5" y="374.71" width="32.5" height="8.95" fill="rgb(255,255,0)"/>
<rect x="648.5" y="366.36" width="32.5" height="8.95" fill="rgb(239,255,16)"/>
<rect x="648.5" y="358.01" width="32.5" height="8.95" fill="rgb(223,255,32)"/>
<rect x="648.5" y="349.66" width="32.5" height="8.95" fill="rgb(207,255,48)"/>
<rect x="648.5" y="341.30" width="32.5" height="8.95" fill="rgb(191,255,64)"/>
<rect x="648.5" y="332.95" width="32.5" height="8.95" fill="rgb(175,255,80)"/>
<rect x="648.5" y="324.60" width="32.5" height="8.95" fill="rgb(159,255,96)"/>
<rect x="648.5" y="316.25" width="32.5" height="8.95" fill="rgb(143,255,112)"/>
<rect x="648.5" y="307.90" width="32.5" height="8.95" fill="rgb(128,255,128)"/>
<rect x="648.5" y="299.55" width="32.5" height="8.95" fill="rgb(112,255,143)"/>
<rect x="648.5" y="291.20" width="32.5" height="8.95" fill="rgb(96,255,159)"/>
<rect x="648.5" y="282.84" width="32.5" height="8.95" fill="rgb(80,255,175)"/>
<rect x="648.5" y="274.49" width="32.5" height="8.95" fill="rgb(64,255,191)"/>
<rect x="648.5" y="266.14" width="32.5" height="8.95" fill="rgb(48,255,207)"/>
<rect x="648.5" y="257.79" width="32.5" height="8.95" fill="rgb(32,255,223)"/>
<rect x="648.5" y="249.44" width="32.5" height="8.95" fill="rgb(16,255,239)"/>
<rect x="648.5" y="241.09" width="32.5" height="8.95" fill="rgb(0,255,255)"/>
<rect x="648.5" y="232.73" width="32.5" height="8.95" fill="rgb(0,239,255)"/>
<rect x="648.5" y="224.38" width="32.5" height="8.95" fill="rgb(0,223,255)"/>
<rect x="648.5" y="216.03" width="32.5" height="8.95" fill="rgb(0,207,255)"/>
<rect x="648.5" y="207.68" width="32.5" height="8.95" fill="rgb(0,191,255)"/>
<rect x="648.5" y="199.33" width="32.5" height="8.95" fill="rgb(0,175,255)"/>
<rect x="648.5" y="190.98" width="32.5" height="8.95" fill="rgb(0,159,255)"/>
<rect x="648.5" y="182.62" width="32.5" height="8.95" fill="rgb(0,143,255)"/>
<rect x="648.5" y="174.27" width="32.5" height="8.95" fill="rgb(0,128,255)"/>
<rect x="648.5" y="165.92" width="32.5" height="8.95" fill="rgb(0,112,255)"/>
<rect x="648.5" y="157.57" width="32.5" height="8.95" fill="rgb(0,96,255)"/>
<rect x="648.5" y="149.22" width="32.5" height="8.95" fill="rgb(0,80,255)"/>
<rect x="648.5" y="140.87" width="32.5" height="8.95" fill="rgb(0,64,255)"/>
<rect x="648.5" y="132.52" width="32.5" height="8.95" fill="rgb(0,48,255)"/>
<rect x="648.5" y="124.16" width="32.5" height="8.95" fill="rgb(0,32,255)"/>
<rect x="648.5" y="115.81" width="32.5" height="8.95" fill="rgb(0,16,255)"/>
<rect x="648.5" y="107.46" width="32.5" height="8.95" fill="rgb(0,0,255)"/>
<rect x="648.5" y="99.11" width="32.5" height="8.95" fill="rgb(0,0,239)"/>
<rect x="648.5" y="90.76" width="32.5" height="8.95" fill="rgb(0,0,223)"/>
<rect x="648.5" y="82.41" width="32.5" height="8.95" fill="rgb(0,0,207)"/>
<rect x="648.5" y="74.05" width="32.5" height="8.95" fill="rgb(0,0,191)"/>
<rect x="648.5" y="65.70" width="32.5" height="8.95" fill="rgb(0,0,175)"/>
<rect x="648.5" y="57.35" width="32.5" height="8.95" fill="rgb(0,0,159)"/>
<rect x="648.5" y="49.00" width="32.5" height="8.95" fill="rgb(0,0,143)"/>
</g>
<rect x="648.5" y="49.0" width="32.5" height="534.5" fill="none" stroke="#262626" stroke-width="1"/>
<g stroke="#262626" stroke-width="1">
<line x1="675.5" y1="524.1" x2="681.0" y2="524.1"/>
<line x1="675.5" y1="464.7" x2="681.0" y2="464.7"/>
<line x1="675.5" y1="405.3" x2="681.0" y2="405.3"/>
<line x1="675.5" y1="345.9" x2="681.0" y2="345.9"/>
<line x1="675.5" y1="286.6" x2="681.0" y2="286.6"/>
<line x1="675.5" y1="227.2" x2="681.0" y2="227.2"/>
<line x1="675.5" y1="167.8" x2="681.0" y2="167.8"/>
<line x1="675.5" y1="108.4" x2="681.0" y2="108.4"/>
</g>
<g font-size="18.5" fill="#262626">
<text x="690.3" y="590.4">0</text>
<text x="690.3" y="531.0">2</text>
<text x="690.3" y="471.6">4</text>
<text x="690.3" y="412.2">6</text>
<text x="690.3" y="352.8">8</text>
<text x="690.3" y="293.5">10</text>
<text x="690.3" y="234.1">12</text>
<text x="690.3" y="174.7">14</text>
<text x="690.3" y="115.3">16</text>
<text x="690.3" y="55.9">18</text>
</g>
</svg></body></html>
